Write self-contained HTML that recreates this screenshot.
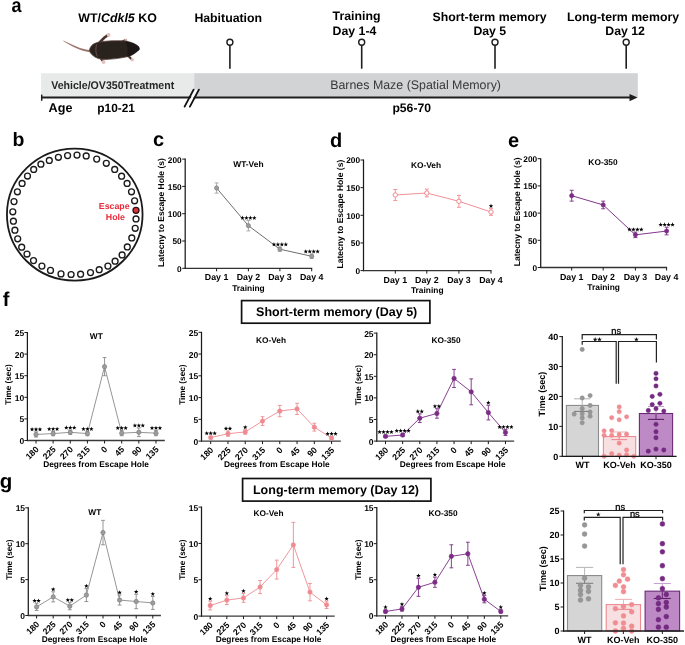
<!DOCTYPE html>
<html><head><meta charset="utf-8"><style>
html,body{margin:0;padding:0;background:#fff;}
svg{display:block;font-family:"Liberation Sans", sans-serif;text-rendering:geometricPrecision;will-change:transform;}
</style></head><body>
<svg width="685" height="645" viewBox="0 0 685 645">
<defs><path id="star" d="M0.00,-2.10 L0.58,-0.54 L2.23,-0.48 L0.93,0.55 L1.38,2.15 L0.00,1.23 L-1.38,2.15 L-0.93,0.55 L-2.23,-0.48 L-0.58,-0.54 Z"/><filter id="blur" x="-10%" y="-20%" width="120%" height="140%"><feGaussianBlur stdDeviation="0.6"/></filter></defs>
<rect width="685" height="645" fill="#fff"/>
<text x="0" y="0" font-size="20" font-weight="bold" transform="translate(11.4,11.9) scale(0.9,1)">a</text>
<text x="78.3" y="22.1" font-size="12.4" font-weight="bold">WT/<tspan font-style="italic">Cdkl5</tspan> KO</text>
<g filter="url(#blur)">
<path d="M63.3,40.4 C70,43.5 78,47.8 86,49.6 L91.5,50.2 L91.5,52.6 L86,51.6 C78,49.8 70,45 63.5,41.2 Z" fill="#9a776d"/>
<path d="M98,44 L104.5,37.5 L108,35.2" stroke="#4a352f" stroke-width="2.6" fill="none" stroke-linecap="round"/>
<circle cx="108.6" cy="34.9" r="1.9" fill="#e2c0bb"/>
<path d="M121,42.5 L125,40.2" stroke="#4a352f" stroke-width="2.2" fill="none" stroke-linecap="round"/>
<circle cx="125.9" cy="39.9" r="1.5" fill="#d9b6b0"/>
<path d="M100,57 L103,61" stroke="#4a352f" stroke-width="2.6" fill="none" stroke-linecap="round"/>
<circle cx="103.6" cy="62.0" r="1.9" fill="#e2c0bb"/>
<path d="M128,55.5 L131.5,59.2" stroke="#4a352f" stroke-width="2.2" fill="none" stroke-linecap="round"/>
<circle cx="132.2" cy="59.7" r="1.7" fill="#e2c0bb"/>
<path d="M89.6,50 C90,46.5 93,43.5 97.2,42.6 C103,41.1 112,40.5 124.5,40.9 C130,41.5 136,44 138.5,46.5 C140,48.5 139.5,50 137.6,51 C135,53.5 131,56 127,56.8 C120,58.3 112,59.3 106,59.4 C100,59.6 95.5,58 93,55.6 C91,54 89.6,52 89.6,50 Z" fill="#2c211d" stroke="#5b453c" stroke-width="0.8"/>
<path d="M125,41.3 C130,41.8 136,44 138.5,46.5 C140,48.5 139.5,50 137.6,51 C135,53.5 131,56 127,56.8 C128.5,52 128,45 125,41.3 Z" fill="#1c1513"/>
<path d="M96.5,44.5 C95.5,49 95.5,53 97.5,56.5" stroke="#6b544c" stroke-width="0.9" fill="none"/>
</g>
<rect x="41" y="73.2" width="153.2" height="24" fill="#e8e9e9"/>
<rect x="194.2" y="73.2" width="443.6" height="24" fill="#d1d3d5"/>
<line x1="41.7" y1="97.5" x2="631" y2="97.5" stroke="#1e1e1e" stroke-width="2" />
<line x1="41.7" y1="94.6" x2="41.7" y2="100.8" stroke="#1e1e1e" stroke-width="1.5" />
<polygon points="629.5,94 637.6,97.6 629.5,101.3" fill="#1e1e1e"/>
<polygon points="186.2,106.6 195.2,89.6 197.8,89.6 188.8,106.6" fill="#fff"/>
<line x1="184.6" y1="106.6" x2="193.6" y2="89.6" stroke="#111" stroke-width="1.8" stroke-linecap="round"/>
<line x1="189.9" y1="106.6" x2="198.9" y2="89.6" stroke="#111" stroke-width="1.8" stroke-linecap="round"/>
<text x="51.2" y="88.6" font-size="11.2" font-weight="bold" text-anchor="start" fill="#262626" textLength="123" lengthAdjust="spacingAndGlyphs">Vehicle/OV350Treatment</text>
<text x="330.2" y="89" font-size="12.4" font-weight="normal" text-anchor="start" fill="#383838" >Barnes Maze (Spatial Memory)</text>
<text x="48.6" y="111.9" font-size="12.6" font-weight="bold" text-anchor="start" fill="#000" >Age</text>
<text x="97.3" y="111.9" font-size="11.9" font-weight="bold" text-anchor="start" fill="#000" >p10-21</text>
<text x="392.4" y="111.6" font-size="12.2" font-weight="bold" text-anchor="start" fill="#000" >p56-70</text>
<text x="194.4" y="21.7" font-size="12.3" font-weight="bold" text-anchor="start" fill="#000" >Habituation</text>
<text x="332.6" y="19.8" font-size="12.3" font-weight="bold" text-anchor="start" fill="#000" >Training</text>
<text x="332.6" y="35" font-size="12.3" font-weight="bold" text-anchor="start" fill="#000" >Day 1-4</text>
<text x="489.5" y="20.5" font-size="12.3" font-weight="bold" text-anchor="middle" fill="#000" >Short-term memory</text>
<text x="489.8" y="34.8" font-size="12.3" font-weight="bold" text-anchor="middle" fill="#000" >Day 5</text>
<text x="623" y="20.5" font-size="12.3" font-weight="bold" text-anchor="middle" fill="#000" >Long-term memory</text>
<text x="625.1" y="34.8" font-size="12.3" font-weight="bold" text-anchor="middle" fill="#000" >Day 12</text>
<circle cx="229.9" cy="42.2" r="3.0" fill="#fff" stroke="#1e1e1e" stroke-width="1.4"/>
<line x1="229.9" y1="45.2" x2="229.9" y2="68.7" stroke="#1e1e1e" stroke-width="1.6" />
<circle cx="361.7" cy="42.2" r="3.0" fill="#fff" stroke="#1e1e1e" stroke-width="1.4"/>
<line x1="361.7" y1="45.2" x2="361.7" y2="68.7" stroke="#1e1e1e" stroke-width="1.6" />
<circle cx="495.0" cy="42.2" r="3.0" fill="#fff" stroke="#1e1e1e" stroke-width="1.4"/>
<line x1="495" y1="45.2" x2="495" y2="68.7" stroke="#1e1e1e" stroke-width="1.6" />
<circle cx="626.2" cy="42.2" r="3.0" fill="#fff" stroke="#1e1e1e" stroke-width="1.4"/>
<line x1="626.2" y1="45.2" x2="626.2" y2="68.7" stroke="#1e1e1e" stroke-width="1.6" />
<text x="0" y="0" font-size="19.5" font-weight="bold" transform="translate(12.4,145.6)">b</text>
<ellipse cx="74.75" cy="214.6" rx="67.8" ry="66.0" fill="none" stroke="#1a1a1a" stroke-width="1.8"/>
<circle cx="136.0" cy="210.3" r="3.0" fill="#d8323c" stroke="#2a1010" stroke-width="1.3"/>
<circle cx="134.6" cy="200.8" r="2.95" fill="#fff" stroke="#1a1a1a" stroke-width="1.35"/>
<circle cx="131.5" cy="191.8" r="2.95" fill="#fff" stroke="#1a1a1a" stroke-width="1.35"/>
<circle cx="127.1" cy="183.4" r="2.95" fill="#fff" stroke="#1a1a1a" stroke-width="1.35"/>
<circle cx="121.6" cy="176.2" r="2.95" fill="#fff" stroke="#1a1a1a" stroke-width="1.35"/>
<circle cx="114.7" cy="169.4" r="2.95" fill="#fff" stroke="#1a1a1a" stroke-width="1.35"/>
<circle cx="106.3" cy="163.3" r="2.95" fill="#fff" stroke="#1a1a1a" stroke-width="1.35"/>
<circle cx="96.7" cy="159.1" r="2.95" fill="#fff" stroke="#1a1a1a" stroke-width="1.35"/>
<circle cx="86.2" cy="155.9" r="2.95" fill="#fff" stroke="#1a1a1a" stroke-width="1.35"/>
<circle cx="77.0" cy="155.1" r="2.95" fill="#fff" stroke="#1a1a1a" stroke-width="1.35"/>
<circle cx="67.6" cy="155.6" r="2.95" fill="#fff" stroke="#1a1a1a" stroke-width="1.35"/>
<circle cx="58.4" cy="157.3" r="2.95" fill="#fff" stroke="#1a1a1a" stroke-width="1.35"/>
<circle cx="49.3" cy="160.4" r="2.95" fill="#fff" stroke="#1a1a1a" stroke-width="1.35"/>
<circle cx="40.9" cy="164.2" r="2.95" fill="#fff" stroke="#1a1a1a" stroke-width="1.35"/>
<circle cx="33.7" cy="169.4" r="2.95" fill="#fff" stroke="#1a1a1a" stroke-width="1.35"/>
<circle cx="27.5" cy="176.0" r="2.95" fill="#fff" stroke="#1a1a1a" stroke-width="1.35"/>
<circle cx="22.1" cy="183.4" r="2.95" fill="#fff" stroke="#1a1a1a" stroke-width="1.35"/>
<circle cx="17.4" cy="191.8" r="2.95" fill="#fff" stroke="#1a1a1a" stroke-width="1.35"/>
<circle cx="14.0" cy="201.6" r="2.95" fill="#fff" stroke="#1a1a1a" stroke-width="1.35"/>
<circle cx="12.8" cy="211.8" r="2.95" fill="#fff" stroke="#1a1a1a" stroke-width="1.35"/>
<circle cx="13.4" cy="221.2" r="2.95" fill="#fff" stroke="#1a1a1a" stroke-width="1.35"/>
<circle cx="14.9" cy="230.2" r="2.95" fill="#fff" stroke="#1a1a1a" stroke-width="1.35"/>
<circle cx="17.7" cy="238.8" r="2.95" fill="#fff" stroke="#1a1a1a" stroke-width="1.35"/>
<circle cx="21.7" cy="247.2" r="2.95" fill="#fff" stroke="#1a1a1a" stroke-width="1.35"/>
<circle cx="27.0" cy="254.0" r="2.95" fill="#fff" stroke="#1a1a1a" stroke-width="1.35"/>
<circle cx="33.5" cy="260.6" r="2.95" fill="#fff" stroke="#1a1a1a" stroke-width="1.35"/>
<circle cx="41.9" cy="266.1" r="2.95" fill="#fff" stroke="#1a1a1a" stroke-width="1.35"/>
<circle cx="50.5" cy="270.4" r="2.95" fill="#fff" stroke="#1a1a1a" stroke-width="1.35"/>
<circle cx="61.0" cy="273.9" r="2.95" fill="#fff" stroke="#1a1a1a" stroke-width="1.35"/>
<circle cx="71.1" cy="274.5" r="2.95" fill="#fff" stroke="#1a1a1a" stroke-width="1.35"/>
<circle cx="80.6" cy="274.2" r="2.95" fill="#fff" stroke="#1a1a1a" stroke-width="1.35"/>
<circle cx="90.5" cy="272.6" r="2.95" fill="#fff" stroke="#1a1a1a" stroke-width="1.35"/>
<circle cx="99.2" cy="269.7" r="2.95" fill="#fff" stroke="#1a1a1a" stroke-width="1.35"/>
<circle cx="107.9" cy="266.1" r="2.95" fill="#fff" stroke="#1a1a1a" stroke-width="1.35"/>
<circle cx="115.1" cy="261.2" r="2.95" fill="#fff" stroke="#1a1a1a" stroke-width="1.35"/>
<circle cx="122.1" cy="254.9" r="2.95" fill="#fff" stroke="#1a1a1a" stroke-width="1.35"/>
<circle cx="127.3" cy="246.9" r="2.95" fill="#fff" stroke="#1a1a1a" stroke-width="1.35"/>
<circle cx="131.8" cy="237.9" r="2.95" fill="#fff" stroke="#1a1a1a" stroke-width="1.35"/>
<circle cx="135.2" cy="228.3" r="2.95" fill="#fff" stroke="#1a1a1a" stroke-width="1.35"/>
<circle cx="136.0" cy="218.9" r="2.95" fill="#fff" stroke="#1a1a1a" stroke-width="1.35"/>
<text x="114.2" y="208.9" font-size="8.8" font-weight="bold" text-anchor="middle" fill="#ea2c3b" >Escape</text>
<text x="115.4" y="219.6" font-size="8.8" font-weight="bold" text-anchor="middle" fill="#ea2c3b" >Hole</text>
<text x="0" y="0" font-size="20" font-weight="bold" transform="translate(153.1,146.3)">c</text>
<line x1="185.2" y1="158.6" x2="185.2" y2="268.9" stroke="#1a1a1a" stroke-width="1.25" />
<line x1="184.7" y1="268.3" x2="312.2" y2="268.3" stroke="#333" stroke-width="1.35" />
<line x1="182.2" y1="268.3" x2="185.2" y2="268.3" stroke="#1a1a1a" stroke-width="1" />
<text x="181.7" y="271.7" font-size="8.3" font-weight="bold" text-anchor="end" fill="#000" >0</text>
<line x1="182.2" y1="241" x2="185.2" y2="241" stroke="#1a1a1a" stroke-width="1" />
<text x="181.7" y="244.4" font-size="8.3" font-weight="bold" text-anchor="end" fill="#000" >50</text>
<line x1="182.2" y1="213.7" x2="185.2" y2="213.7" stroke="#1a1a1a" stroke-width="1" />
<text x="181.7" y="217.1" font-size="8.3" font-weight="bold" text-anchor="end" fill="#000" >100</text>
<line x1="182.2" y1="186.4" x2="185.2" y2="186.4" stroke="#1a1a1a" stroke-width="1" />
<text x="181.7" y="189.8" font-size="8.3" font-weight="bold" text-anchor="end" fill="#000" >150</text>
<line x1="182.2" y1="159.1" x2="185.2" y2="159.1" stroke="#1a1a1a" stroke-width="1" />
<text x="181.7" y="162.5" font-size="8.3" font-weight="bold" text-anchor="end" fill="#000" >200</text>
<line x1="216.6" y1="268.3" x2="216.6" y2="271.3" stroke="#1a1a1a" stroke-width="1" />
<text x="216.6" y="280.3" font-size="8.8" font-weight="bold" text-anchor="middle" fill="#000" >Day 1</text>
<line x1="248.4" y1="268.3" x2="248.4" y2="271.3" stroke="#1a1a1a" stroke-width="1" />
<text x="248.4" y="280.3" font-size="8.8" font-weight="bold" text-anchor="middle" fill="#000" >Day 2</text>
<line x1="279.9" y1="268.3" x2="279.9" y2="271.3" stroke="#1a1a1a" stroke-width="1" />
<text x="279.9" y="280.3" font-size="8.8" font-weight="bold" text-anchor="middle" fill="#000" >Day 3</text>
<line x1="311.7" y1="268.3" x2="311.7" y2="271.3" stroke="#1a1a1a" stroke-width="1" />
<text x="311.7" y="280.3" font-size="8.8" font-weight="bold" text-anchor="middle" fill="#000" >Day 4</text>
<text x="248.45" y="291.1" font-size="8.4" font-weight="bold" text-anchor="middle" fill="#000" >Training</text>
<text x="0" y="0" font-size="8.55" font-weight="bold" text-anchor="middle" transform="translate(164.2,212.5) rotate(-90)">Latecny to Escape Hole (s)</text>
<text x="248.4" y="167.3" font-size="8.4" font-weight="bold" text-anchor="middle" fill="#000" >WT-Veh</text>
<polyline points="216.6,188.04 248.4,225.71 279.9,249.19 311.7,256.29" fill="none" stroke="#666" stroke-width="0.95"/>
<line x1="216.6" y1="182.96" x2="216.6" y2="193.12" stroke="#a3a3a3" stroke-width="0.9" />
<line x1="214.6" y1="182.96" x2="218.6" y2="182.96" stroke="#a3a3a3" stroke-width="0.9" />
<line x1="214.6" y1="193.12" x2="218.6" y2="193.12" stroke="#a3a3a3" stroke-width="0.9" />
<line x1="248.4" y1="220.53" x2="248.4" y2="230.9" stroke="#a3a3a3" stroke-width="0.9" />
<line x1="246.4" y1="220.53" x2="250.4" y2="220.53" stroke="#a3a3a3" stroke-width="0.9" />
<line x1="246.4" y1="230.9" x2="250.4" y2="230.9" stroke="#a3a3a3" stroke-width="0.9" />
<line x1="279.9" y1="247.01" x2="279.9" y2="251.37" stroke="#a3a3a3" stroke-width="0.9" />
<line x1="277.9" y1="247.01" x2="281.9" y2="247.01" stroke="#a3a3a3" stroke-width="0.9" />
<line x1="277.9" y1="251.37" x2="281.9" y2="251.37" stroke="#a3a3a3" stroke-width="0.9" />
<line x1="311.7" y1="254.1" x2="311.7" y2="258.47" stroke="#a3a3a3" stroke-width="0.9" />
<line x1="309.7" y1="254.1" x2="313.7" y2="254.1" stroke="#a3a3a3" stroke-width="0.9" />
<line x1="309.7" y1="258.47" x2="313.7" y2="258.47" stroke="#a3a3a3" stroke-width="0.9" />
<circle cx="216.6" cy="188.04" r="2.1" fill="#9c9c9c" stroke="#7c7c7c" stroke-width="0.7"/>
<circle cx="248.4" cy="225.71" r="2.1" fill="#9c9c9c" stroke="#7c7c7c" stroke-width="0.7"/>
<circle cx="279.9" cy="249.19" r="2.1" fill="#9c9c9c" stroke="#7c7c7c" stroke-width="0.7"/>
<circle cx="311.7" cy="256.29" r="2.1" fill="#9c9c9c" stroke="#7c7c7c" stroke-width="0.7"/>
<use href="#star" x="242.47" y="217.72" fill="#000"/>
<use href="#star" x="246.42" y="217.72" fill="#000"/>
<use href="#star" x="250.38" y="217.72" fill="#000"/>
<use href="#star" x="254.32" y="217.72" fill="#000"/>
<use href="#star" x="273.97" y="244.21" fill="#000"/>
<use href="#star" x="277.92" y="244.21" fill="#000"/>
<use href="#star" x="281.87" y="244.21" fill="#000"/>
<use href="#star" x="285.82" y="244.21" fill="#000"/>
<use href="#star" x="305.77" y="251.3" fill="#000"/>
<use href="#star" x="309.72" y="251.3" fill="#000"/>
<use href="#star" x="313.67" y="251.3" fill="#000"/>
<use href="#star" x="317.62" y="251.3" fill="#000"/>
<text x="0" y="0" font-size="20" font-weight="bold" transform="translate(329.9,146.8)">d</text>
<line x1="363.5" y1="159.5" x2="363.5" y2="271.2" stroke="#1a1a1a" stroke-width="1.25" />
<line x1="363" y1="270.6" x2="491.5" y2="270.6" stroke="#333" stroke-width="1.35" />
<line x1="360.5" y1="270.6" x2="363.5" y2="270.6" stroke="#1a1a1a" stroke-width="1" />
<text x="360" y="274" font-size="8.3" font-weight="bold" text-anchor="end" fill="#000" >0</text>
<line x1="360.5" y1="242.95" x2="363.5" y2="242.95" stroke="#1a1a1a" stroke-width="1" />
<text x="360" y="246.35" font-size="8.3" font-weight="bold" text-anchor="end" fill="#000" >50</text>
<line x1="360.5" y1="215.3" x2="363.5" y2="215.3" stroke="#1a1a1a" stroke-width="1" />
<text x="360" y="218.7" font-size="8.3" font-weight="bold" text-anchor="end" fill="#000" >100</text>
<line x1="360.5" y1="187.65" x2="363.5" y2="187.65" stroke="#1a1a1a" stroke-width="1" />
<text x="360" y="191.05" font-size="8.3" font-weight="bold" text-anchor="end" fill="#000" >150</text>
<line x1="360.5" y1="160" x2="363.5" y2="160" stroke="#1a1a1a" stroke-width="1" />
<text x="360" y="163.4" font-size="8.3" font-weight="bold" text-anchor="end" fill="#000" >200</text>
<line x1="395.3" y1="270.6" x2="395.3" y2="273.6" stroke="#1a1a1a" stroke-width="1" />
<text x="395.3" y="282.6" font-size="8.8" font-weight="bold" text-anchor="middle" fill="#000" >Day 1</text>
<line x1="426.8" y1="270.6" x2="426.8" y2="273.6" stroke="#1a1a1a" stroke-width="1" />
<text x="426.8" y="282.6" font-size="8.8" font-weight="bold" text-anchor="middle" fill="#000" >Day 2</text>
<line x1="458.9" y1="270.6" x2="458.9" y2="273.6" stroke="#1a1a1a" stroke-width="1" />
<text x="458.9" y="282.6" font-size="8.8" font-weight="bold" text-anchor="middle" fill="#000" >Day 3</text>
<line x1="491" y1="270.6" x2="491" y2="273.6" stroke="#1a1a1a" stroke-width="1" />
<text x="491" y="282.6" font-size="8.8" font-weight="bold" text-anchor="middle" fill="#000" >Day 4</text>
<text x="427.25" y="293.4" font-size="8.4" font-weight="bold" text-anchor="middle" fill="#000" >Training</text>
<text x="0" y="0" font-size="8.55" font-weight="bold" text-anchor="middle" transform="translate(342.5,214.1) rotate(-90)">Latecny to Escape Hole (s)</text>
<text x="426" y="167.5" font-size="8.4" font-weight="bold" text-anchor="middle" fill="#000" >KO-Veh</text>
<polyline points="395.3,195 426.8,193.01 458.9,201.31 491,211.98" fill="none" stroke="#ef8a90" stroke-width="0.95"/>
<line x1="395.3" y1="189.53" x2="395.3" y2="200.48" stroke="#ef8a90" stroke-width="0.9" />
<line x1="393.3" y1="189.53" x2="397.3" y2="189.53" stroke="#ef8a90" stroke-width="0.9" />
<line x1="393.3" y1="200.48" x2="397.3" y2="200.48" stroke="#ef8a90" stroke-width="0.9" />
<line x1="426.8" y1="189.14" x2="426.8" y2="196.89" stroke="#ef8a90" stroke-width="0.9" />
<line x1="424.8" y1="189.14" x2="428.8" y2="189.14" stroke="#ef8a90" stroke-width="0.9" />
<line x1="424.8" y1="196.89" x2="428.8" y2="196.89" stroke="#ef8a90" stroke-width="0.9" />
<line x1="458.9" y1="195.34" x2="458.9" y2="207.28" stroke="#ef8a90" stroke-width="0.9" />
<line x1="456.9" y1="195.34" x2="460.9" y2="195.34" stroke="#ef8a90" stroke-width="0.9" />
<line x1="456.9" y1="207.28" x2="460.9" y2="207.28" stroke="#ef8a90" stroke-width="0.9" />
<line x1="491" y1="208.66" x2="491" y2="215.3" stroke="#ef8a90" stroke-width="0.9" />
<line x1="489" y1="208.66" x2="493" y2="208.66" stroke="#ef8a90" stroke-width="0.9" />
<line x1="489" y1="215.3" x2="493" y2="215.3" stroke="#ef8a90" stroke-width="0.9" />
<circle cx="395.3" cy="195" r="2.2" fill="#fff" stroke="#ef8a90" stroke-width="1"/>
<circle cx="426.8" cy="193.01" r="2.2" fill="#fff" stroke="#ef8a90" stroke-width="1"/>
<circle cx="458.9" cy="201.31" r="2.2" fill="#fff" stroke="#ef8a90" stroke-width="1"/>
<circle cx="491" cy="211.98" r="2.2" fill="#fff" stroke="#ef8a90" stroke-width="1"/>
<use href="#star" x="491" y="205.86" fill="#000"/>
<text x="0" y="0" font-size="20" font-weight="bold" transform="translate(508,146.8)">e</text>
<line x1="540.7" y1="158.2" x2="540.7" y2="268.1" stroke="#1a1a1a" stroke-width="1.25" />
<line x1="540.2" y1="267.5" x2="667.1" y2="267.5" stroke="#333" stroke-width="1.35" />
<line x1="537.7" y1="267.5" x2="540.7" y2="267.5" stroke="#1a1a1a" stroke-width="1" />
<text x="537.2" y="270.9" font-size="8.3" font-weight="bold" text-anchor="end" fill="#000" >0</text>
<line x1="537.7" y1="240.3" x2="540.7" y2="240.3" stroke="#1a1a1a" stroke-width="1" />
<text x="537.2" y="243.7" font-size="8.3" font-weight="bold" text-anchor="end" fill="#000" >50</text>
<line x1="537.7" y1="213.1" x2="540.7" y2="213.1" stroke="#1a1a1a" stroke-width="1" />
<text x="537.2" y="216.5" font-size="8.3" font-weight="bold" text-anchor="end" fill="#000" >100</text>
<line x1="537.7" y1="185.9" x2="540.7" y2="185.9" stroke="#1a1a1a" stroke-width="1" />
<text x="537.2" y="189.3" font-size="8.3" font-weight="bold" text-anchor="end" fill="#000" >150</text>
<line x1="537.7" y1="158.7" x2="540.7" y2="158.7" stroke="#1a1a1a" stroke-width="1" />
<text x="537.2" y="162.1" font-size="8.3" font-weight="bold" text-anchor="end" fill="#000" >200</text>
<line x1="571.7" y1="267.5" x2="571.7" y2="270.5" stroke="#1a1a1a" stroke-width="1" />
<text x="571.7" y="279.5" font-size="8.8" font-weight="bold" text-anchor="middle" fill="#000" >Day 1</text>
<line x1="603.2" y1="267.5" x2="603.2" y2="270.5" stroke="#1a1a1a" stroke-width="1" />
<text x="603.2" y="279.5" font-size="8.8" font-weight="bold" text-anchor="middle" fill="#000" >Day 2</text>
<line x1="635.4" y1="267.5" x2="635.4" y2="270.5" stroke="#1a1a1a" stroke-width="1" />
<text x="635.4" y="279.5" font-size="8.8" font-weight="bold" text-anchor="middle" fill="#000" >Day 3</text>
<line x1="666.6" y1="267.5" x2="666.6" y2="270.5" stroke="#1a1a1a" stroke-width="1" />
<text x="666.6" y="279.5" font-size="8.8" font-weight="bold" text-anchor="middle" fill="#000" >Day 4</text>
<text x="603.65" y="290.3" font-size="8.4" font-weight="bold" text-anchor="middle" fill="#000" >Training</text>
<text x="0" y="0" font-size="8.55" font-weight="bold" text-anchor="middle" transform="translate(519.7,211.9) rotate(-90)">Latecny to Escape Hole (s)</text>
<text x="603" y="164.8" font-size="8.4" font-weight="bold" text-anchor="middle" fill="#000" >KO-350</text>
<polyline points="571.7,195.69 603.2,204.94 635.4,234.86 666.6,231.05" fill="none" stroke="#7b2c85" stroke-width="0.95"/>
<line x1="571.7" y1="190.25" x2="571.7" y2="201.13" stroke="#7b2c85" stroke-width="0.9" />
<line x1="569.7" y1="190.25" x2="573.7" y2="190.25" stroke="#7b2c85" stroke-width="0.9" />
<line x1="569.7" y1="201.13" x2="573.7" y2="201.13" stroke="#7b2c85" stroke-width="0.9" />
<line x1="603.2" y1="201.13" x2="603.2" y2="208.75" stroke="#7b2c85" stroke-width="0.9" />
<line x1="601.2" y1="201.13" x2="605.2" y2="201.13" stroke="#7b2c85" stroke-width="0.9" />
<line x1="601.2" y1="208.75" x2="605.2" y2="208.75" stroke="#7b2c85" stroke-width="0.9" />
<line x1="635.4" y1="232.14" x2="635.4" y2="237.58" stroke="#7b2c85" stroke-width="0.9" />
<line x1="633.4" y1="232.14" x2="637.4" y2="232.14" stroke="#7b2c85" stroke-width="0.9" />
<line x1="633.4" y1="237.58" x2="637.4" y2="237.58" stroke="#7b2c85" stroke-width="0.9" />
<line x1="666.6" y1="227.24" x2="666.6" y2="234.86" stroke="#7b2c85" stroke-width="0.9" />
<line x1="664.6" y1="227.24" x2="668.6" y2="227.24" stroke="#7b2c85" stroke-width="0.9" />
<line x1="664.6" y1="234.86" x2="668.6" y2="234.86" stroke="#7b2c85" stroke-width="0.9" />
<circle cx="571.7" cy="195.69" r="2.1" fill="#7b2c85" stroke="#7b2c85" stroke-width="0.7"/>
<circle cx="603.2" cy="204.94" r="2.1" fill="#7b2c85" stroke="#7b2c85" stroke-width="0.7"/>
<circle cx="635.4" cy="234.86" r="2.1" fill="#7b2c85" stroke="#7b2c85" stroke-width="0.7"/>
<circle cx="666.6" cy="231.05" r="2.1" fill="#7b2c85" stroke="#7b2c85" stroke-width="0.7"/>
<use href="#star" x="629.48" y="229.34" fill="#000"/>
<use href="#star" x="633.43" y="229.34" fill="#000"/>
<use href="#star" x="637.38" y="229.34" fill="#000"/>
<use href="#star" x="641.33" y="229.34" fill="#000"/>
<use href="#star" x="660.68" y="224.44" fill="#000"/>
<use href="#star" x="664.63" y="224.44" fill="#000"/>
<use href="#star" x="668.58" y="224.44" fill="#000"/>
<use href="#star" x="672.53" y="224.44" fill="#000"/>
<text x="0" y="0" font-size="20" font-weight="bold" transform="translate(2.8,305.9)">f</text>
<text x="0" y="0" font-size="20.5" font-weight="bold" transform="translate(-0.3,487.8)">g</text>
<rect x="241.6" y="300.6" width="188.3" height="22.6" fill="#fff" stroke="#111" stroke-width="1.7"/>
<text x="336.7" y="316.2" font-size="12.5" font-weight="bold" text-anchor="middle" fill="#000" >Short-term memory (Day 5)</text>
<rect x="242.6" y="478.5" width="188.3" height="22.6" fill="#fff" stroke="#111" stroke-width="1.7"/>
<text x="336" y="494.1" font-size="12.5" font-weight="bold" text-anchor="middle" fill="#000" >Long-term memory (Day 12)</text>
<line x1="27.4" y1="332" x2="27.4" y2="441.1" stroke="#1a1a1a" stroke-width="1.25" />
<line x1="26.9" y1="440.5" x2="164.8" y2="440.5" stroke="#3a3a3a" stroke-width="1.3" />
<line x1="24.4" y1="440.5" x2="27.4" y2="440.5" stroke="#1a1a1a" stroke-width="1" />
<text x="24.2" y="444" font-size="8.5" font-weight="bold" text-anchor="end" fill="#000" >0</text>
<line x1="24.4" y1="418.9" x2="27.4" y2="418.9" stroke="#1a1a1a" stroke-width="1" />
<text x="24.2" y="422.4" font-size="8.5" font-weight="bold" text-anchor="end" fill="#000" >5</text>
<line x1="24.4" y1="397.3" x2="27.4" y2="397.3" stroke="#1a1a1a" stroke-width="1" />
<text x="24.2" y="400.8" font-size="8.5" font-weight="bold" text-anchor="end" fill="#000" >10</text>
<line x1="24.4" y1="375.7" x2="27.4" y2="375.7" stroke="#1a1a1a" stroke-width="1" />
<text x="24.2" y="379.2" font-size="8.5" font-weight="bold" text-anchor="end" fill="#000" >15</text>
<line x1="24.4" y1="354.1" x2="27.4" y2="354.1" stroke="#1a1a1a" stroke-width="1" />
<text x="24.2" y="357.6" font-size="8.5" font-weight="bold" text-anchor="end" fill="#000" >20</text>
<line x1="24.4" y1="332.5" x2="27.4" y2="332.5" stroke="#1a1a1a" stroke-width="1" />
<text x="24.2" y="336" font-size="8.5" font-weight="bold" text-anchor="end" fill="#000" >25</text>
<line x1="36" y1="440.5" x2="36" y2="443.5" stroke="#1a1a1a" stroke-width="1" />
<text x="0" y="0" font-size="8.6" font-weight="bold" text-anchor="end" transform="translate(39.3,449.9) rotate(-45)">180</text>
<line x1="53.14" y1="440.5" x2="53.14" y2="443.5" stroke="#1a1a1a" stroke-width="1" />
<text x="0" y="0" font-size="8.6" font-weight="bold" text-anchor="end" transform="translate(56.44,449.9) rotate(-45)">225</text>
<line x1="70.28" y1="440.5" x2="70.28" y2="443.5" stroke="#1a1a1a" stroke-width="1" />
<text x="0" y="0" font-size="8.6" font-weight="bold" text-anchor="end" transform="translate(73.58,449.9) rotate(-45)">270</text>
<line x1="87.42" y1="440.5" x2="87.42" y2="443.5" stroke="#1a1a1a" stroke-width="1" />
<text x="0" y="0" font-size="8.6" font-weight="bold" text-anchor="end" transform="translate(90.72,449.9) rotate(-45)">315</text>
<line x1="104.56" y1="440.5" x2="104.56" y2="443.5" stroke="#1a1a1a" stroke-width="1" />
<text x="0" y="0" font-size="8.6" font-weight="bold" text-anchor="end" transform="translate(107.86,449.9) rotate(-45)">0</text>
<line x1="121.7" y1="440.5" x2="121.7" y2="443.5" stroke="#1a1a1a" stroke-width="1" />
<text x="0" y="0" font-size="8.6" font-weight="bold" text-anchor="end" transform="translate(125,449.9) rotate(-45)">45</text>
<line x1="138.84" y1="440.5" x2="138.84" y2="443.5" stroke="#1a1a1a" stroke-width="1" />
<text x="0" y="0" font-size="8.6" font-weight="bold" text-anchor="end" transform="translate(142.14,449.9) rotate(-45)">90</text>
<line x1="155.98" y1="440.5" x2="155.98" y2="443.5" stroke="#1a1a1a" stroke-width="1" />
<text x="0" y="0" font-size="8.6" font-weight="bold" text-anchor="end" transform="translate(159.28,449.9) rotate(-45)">135</text>
<text x="96" y="466.8" font-size="8.36" font-weight="bold" text-anchor="middle" fill="#000" >Degrees from Escape Hole</text>
<text x="0" y="0" font-size="8.2" font-weight="bold" text-anchor="middle" transform="translate(11.2,384.5) rotate(-90)">Time (sec)</text>
<text x="96.3" y="339.3" font-size="8.3" font-weight="bold" text-anchor="middle" fill="#000" >WT</text>
<polyline points="36,434.45 53.14,433.59 70.28,432.29 87.42,433.59 104.56,366.63 121.7,433.16 138.84,432.29 155.98,433.16" fill="none" stroke="#8a8a8a" stroke-width="0.9"/>
<line x1="36" y1="431.86" x2="36" y2="437.04" stroke="#8a8a8a" stroke-width="0.9" />
<line x1="34.1" y1="431.86" x2="37.9" y2="431.86" stroke="#8a8a8a" stroke-width="0.9" />
<line x1="34.1" y1="437.04" x2="37.9" y2="437.04" stroke="#8a8a8a" stroke-width="0.9" />
<line x1="53.14" y1="431.43" x2="53.14" y2="435.75" stroke="#8a8a8a" stroke-width="0.9" />
<line x1="51.24" y1="431.43" x2="55.04" y2="431.43" stroke="#8a8a8a" stroke-width="0.9" />
<line x1="51.24" y1="435.75" x2="55.04" y2="435.75" stroke="#8a8a8a" stroke-width="0.9" />
<line x1="70.28" y1="430.13" x2="70.28" y2="434.45" stroke="#8a8a8a" stroke-width="0.9" />
<line x1="68.38" y1="430.13" x2="72.18" y2="430.13" stroke="#8a8a8a" stroke-width="0.9" />
<line x1="68.38" y1="434.45" x2="72.18" y2="434.45" stroke="#8a8a8a" stroke-width="0.9" />
<line x1="87.42" y1="431.43" x2="87.42" y2="435.75" stroke="#8a8a8a" stroke-width="0.9" />
<line x1="85.52" y1="431.43" x2="89.32" y2="431.43" stroke="#8a8a8a" stroke-width="0.9" />
<line x1="85.52" y1="435.75" x2="89.32" y2="435.75" stroke="#8a8a8a" stroke-width="0.9" />
<line x1="104.56" y1="357.56" x2="104.56" y2="375.7" stroke="#8a8a8a" stroke-width="0.9" />
<line x1="102.66" y1="357.56" x2="106.46" y2="357.56" stroke="#8a8a8a" stroke-width="0.9" />
<line x1="102.66" y1="375.7" x2="106.46" y2="375.7" stroke="#8a8a8a" stroke-width="0.9" />
<line x1="121.7" y1="430.56" x2="121.7" y2="435.75" stroke="#8a8a8a" stroke-width="0.9" />
<line x1="119.8" y1="430.56" x2="123.6" y2="430.56" stroke="#8a8a8a" stroke-width="0.9" />
<line x1="119.8" y1="435.75" x2="123.6" y2="435.75" stroke="#8a8a8a" stroke-width="0.9" />
<line x1="138.84" y1="427.97" x2="138.84" y2="436.61" stroke="#8a8a8a" stroke-width="0.9" />
<line x1="136.94" y1="427.97" x2="140.74" y2="427.97" stroke="#8a8a8a" stroke-width="0.9" />
<line x1="136.94" y1="436.61" x2="140.74" y2="436.61" stroke="#8a8a8a" stroke-width="0.9" />
<line x1="155.98" y1="430.56" x2="155.98" y2="435.75" stroke="#8a8a8a" stroke-width="0.9" />
<line x1="154.08" y1="430.56" x2="157.88" y2="430.56" stroke="#8a8a8a" stroke-width="0.9" />
<line x1="154.08" y1="435.75" x2="157.88" y2="435.75" stroke="#8a8a8a" stroke-width="0.9" />
<circle cx="36" cy="434.45" r="2.2" fill="#9c9c9c" stroke="#7c7c7c" stroke-width="0.6"/>
<circle cx="53.14" cy="433.59" r="2.2" fill="#9c9c9c" stroke="#7c7c7c" stroke-width="0.6"/>
<circle cx="70.28" cy="432.29" r="2.2" fill="#9c9c9c" stroke="#7c7c7c" stroke-width="0.6"/>
<circle cx="87.42" cy="433.59" r="2.2" fill="#9c9c9c" stroke="#7c7c7c" stroke-width="0.6"/>
<circle cx="104.56" cy="366.63" r="2.2" fill="#9c9c9c" stroke="#7c7c7c" stroke-width="0.6"/>
<circle cx="121.7" cy="433.16" r="2.2" fill="#9c9c9c" stroke="#7c7c7c" stroke-width="0.6"/>
<circle cx="138.84" cy="432.29" r="2.2" fill="#9c9c9c" stroke="#7c7c7c" stroke-width="0.6"/>
<circle cx="155.98" cy="433.16" r="2.2" fill="#9c9c9c" stroke="#7c7c7c" stroke-width="0.6"/>
<use href="#star" x="32.05" y="429.16" fill="#000"/>
<use href="#star" x="36" y="429.16" fill="#000"/>
<use href="#star" x="39.95" y="429.16" fill="#000"/>
<use href="#star" x="49.19" y="428.73" fill="#000"/>
<use href="#star" x="53.14" y="428.73" fill="#000"/>
<use href="#star" x="57.09" y="428.73" fill="#000"/>
<use href="#star" x="66.33" y="427.43" fill="#000"/>
<use href="#star" x="70.28" y="427.43" fill="#000"/>
<use href="#star" x="74.23" y="427.43" fill="#000"/>
<use href="#star" x="83.47" y="428.73" fill="#000"/>
<use href="#star" x="87.42" y="428.73" fill="#000"/>
<use href="#star" x="91.37" y="428.73" fill="#000"/>
<use href="#star" x="117.75" y="427.86" fill="#000"/>
<use href="#star" x="121.7" y="427.86" fill="#000"/>
<use href="#star" x="125.65" y="427.86" fill="#000"/>
<use href="#star" x="134.89" y="425.27" fill="#000"/>
<use href="#star" x="138.84" y="425.27" fill="#000"/>
<use href="#star" x="142.79" y="425.27" fill="#000"/>
<use href="#star" x="152.03" y="427.86" fill="#000"/>
<use href="#star" x="155.98" y="427.86" fill="#000"/>
<use href="#star" x="159.93" y="427.86" fill="#000"/>
<line x1="201.5" y1="331.8" x2="201.5" y2="441.7" stroke="#1a1a1a" stroke-width="1.25" />
<line x1="201" y1="441.1" x2="340.8" y2="441.1" stroke="#3a3a3a" stroke-width="1.3" />
<line x1="198.5" y1="441.1" x2="201.5" y2="441.1" stroke="#1a1a1a" stroke-width="1" />
<text x="198.3" y="444.6" font-size="8.5" font-weight="bold" text-anchor="end" fill="#000" >0</text>
<line x1="198.5" y1="419.34" x2="201.5" y2="419.34" stroke="#1a1a1a" stroke-width="1" />
<text x="198.3" y="422.84" font-size="8.5" font-weight="bold" text-anchor="end" fill="#000" >5</text>
<line x1="198.5" y1="397.58" x2="201.5" y2="397.58" stroke="#1a1a1a" stroke-width="1" />
<text x="198.3" y="401.08" font-size="8.5" font-weight="bold" text-anchor="end" fill="#000" >10</text>
<line x1="198.5" y1="375.82" x2="201.5" y2="375.82" stroke="#1a1a1a" stroke-width="1" />
<text x="198.3" y="379.32" font-size="8.5" font-weight="bold" text-anchor="end" fill="#000" >15</text>
<line x1="198.5" y1="354.06" x2="201.5" y2="354.06" stroke="#1a1a1a" stroke-width="1" />
<text x="198.3" y="357.56" font-size="8.5" font-weight="bold" text-anchor="end" fill="#000" >20</text>
<line x1="198.5" y1="332.3" x2="201.5" y2="332.3" stroke="#1a1a1a" stroke-width="1" />
<text x="198.3" y="335.8" font-size="8.5" font-weight="bold" text-anchor="end" fill="#000" >25</text>
<line x1="210.7" y1="441.1" x2="210.7" y2="444.1" stroke="#1a1a1a" stroke-width="1" />
<text x="0" y="0" font-size="8.6" font-weight="bold" text-anchor="end" transform="translate(214,450.5) rotate(-45)">180</text>
<line x1="227.97" y1="441.1" x2="227.97" y2="444.1" stroke="#1a1a1a" stroke-width="1" />
<text x="0" y="0" font-size="8.6" font-weight="bold" text-anchor="end" transform="translate(231.27,450.5) rotate(-45)">225</text>
<line x1="245.24" y1="441.1" x2="245.24" y2="444.1" stroke="#1a1a1a" stroke-width="1" />
<text x="0" y="0" font-size="8.6" font-weight="bold" text-anchor="end" transform="translate(248.54,450.5) rotate(-45)">270</text>
<line x1="262.51" y1="441.1" x2="262.51" y2="444.1" stroke="#1a1a1a" stroke-width="1" />
<text x="0" y="0" font-size="8.6" font-weight="bold" text-anchor="end" transform="translate(265.81,450.5) rotate(-45)">315</text>
<line x1="279.78" y1="441.1" x2="279.78" y2="444.1" stroke="#1a1a1a" stroke-width="1" />
<text x="0" y="0" font-size="8.6" font-weight="bold" text-anchor="end" transform="translate(283.08,450.5) rotate(-45)">0</text>
<line x1="297.05" y1="441.1" x2="297.05" y2="444.1" stroke="#1a1a1a" stroke-width="1" />
<text x="0" y="0" font-size="8.6" font-weight="bold" text-anchor="end" transform="translate(300.35,450.5) rotate(-45)">45</text>
<line x1="314.32" y1="441.1" x2="314.32" y2="444.1" stroke="#1a1a1a" stroke-width="1" />
<text x="0" y="0" font-size="8.6" font-weight="bold" text-anchor="end" transform="translate(317.62,450.5) rotate(-45)">90</text>
<line x1="331.59" y1="441.1" x2="331.59" y2="444.1" stroke="#1a1a1a" stroke-width="1" />
<text x="0" y="0" font-size="8.6" font-weight="bold" text-anchor="end" transform="translate(334.89,450.5) rotate(-45)">135</text>
<text x="276.8" y="467.4" font-size="8.36" font-weight="bold" text-anchor="middle" fill="#000" >Degrees from Escape Hole</text>
<text x="0" y="0" font-size="8.2" font-weight="bold" text-anchor="middle" transform="translate(185.3,384.7) rotate(-90)">Time (sec)</text>
<text x="271" y="342.7" font-size="8.3" font-weight="bold" text-anchor="middle" fill="#000" >KO-Veh</text>
<polyline points="210.7,437.62 227.97,433.7 245.24,431.96 262.51,421.08 279.78,411.07 297.05,408.9 314.32,427.17 331.59,438.05" fill="none" stroke="#ef8a90" stroke-width="0.9"/>
<line x1="210.7" y1="436.31" x2="210.7" y2="438.92" stroke="#ef8a90" stroke-width="0.9" />
<line x1="208.8" y1="436.31" x2="212.6" y2="436.31" stroke="#ef8a90" stroke-width="0.9" />
<line x1="208.8" y1="438.92" x2="212.6" y2="438.92" stroke="#ef8a90" stroke-width="0.9" />
<line x1="227.97" y1="431.09" x2="227.97" y2="436.31" stroke="#ef8a90" stroke-width="0.9" />
<line x1="226.07" y1="431.09" x2="229.87" y2="431.09" stroke="#ef8a90" stroke-width="0.9" />
<line x1="226.07" y1="436.31" x2="229.87" y2="436.31" stroke="#ef8a90" stroke-width="0.9" />
<line x1="245.24" y1="429.78" x2="245.24" y2="434.14" stroke="#ef8a90" stroke-width="0.9" />
<line x1="243.34" y1="429.78" x2="247.14" y2="429.78" stroke="#ef8a90" stroke-width="0.9" />
<line x1="243.34" y1="434.14" x2="247.14" y2="434.14" stroke="#ef8a90" stroke-width="0.9" />
<line x1="262.51" y1="416.73" x2="262.51" y2="425.43" stroke="#ef8a90" stroke-width="0.9" />
<line x1="260.61" y1="416.73" x2="264.41" y2="416.73" stroke="#ef8a90" stroke-width="0.9" />
<line x1="260.61" y1="425.43" x2="264.41" y2="425.43" stroke="#ef8a90" stroke-width="0.9" />
<line x1="279.78" y1="405.41" x2="279.78" y2="416.73" stroke="#ef8a90" stroke-width="0.9" />
<line x1="277.88" y1="405.41" x2="281.68" y2="405.41" stroke="#ef8a90" stroke-width="0.9" />
<line x1="277.88" y1="416.73" x2="281.68" y2="416.73" stroke="#ef8a90" stroke-width="0.9" />
<line x1="297.05" y1="403.24" x2="297.05" y2="414.55" stroke="#ef8a90" stroke-width="0.9" />
<line x1="295.15" y1="403.24" x2="298.95" y2="403.24" stroke="#ef8a90" stroke-width="0.9" />
<line x1="295.15" y1="414.55" x2="298.95" y2="414.55" stroke="#ef8a90" stroke-width="0.9" />
<line x1="314.32" y1="423.26" x2="314.32" y2="431.09" stroke="#ef8a90" stroke-width="0.9" />
<line x1="312.42" y1="423.26" x2="316.22" y2="423.26" stroke="#ef8a90" stroke-width="0.9" />
<line x1="312.42" y1="431.09" x2="316.22" y2="431.09" stroke="#ef8a90" stroke-width="0.9" />
<line x1="331.59" y1="436.75" x2="331.59" y2="439.36" stroke="#ef8a90" stroke-width="0.9" />
<line x1="329.69" y1="436.75" x2="333.49" y2="436.75" stroke="#ef8a90" stroke-width="0.9" />
<line x1="329.69" y1="439.36" x2="333.49" y2="439.36" stroke="#ef8a90" stroke-width="0.9" />
<circle cx="210.7" cy="437.62" r="2.2" fill="#ef8a90" stroke="#ef8a90" stroke-width="0.6"/>
<circle cx="227.97" cy="433.7" r="2.2" fill="#ef8a90" stroke="#ef8a90" stroke-width="0.6"/>
<circle cx="245.24" cy="431.96" r="2.2" fill="#ef8a90" stroke="#ef8a90" stroke-width="0.6"/>
<circle cx="262.51" cy="421.08" r="2.2" fill="#ef8a90" stroke="#ef8a90" stroke-width="0.6"/>
<circle cx="279.78" cy="411.07" r="2.2" fill="#ef8a90" stroke="#ef8a90" stroke-width="0.6"/>
<circle cx="297.05" cy="408.9" r="2.2" fill="#ef8a90" stroke="#ef8a90" stroke-width="0.6"/>
<circle cx="314.32" cy="427.17" r="2.2" fill="#ef8a90" stroke="#ef8a90" stroke-width="0.6"/>
<circle cx="331.59" cy="438.05" r="2.2" fill="#ef8a90" stroke="#ef8a90" stroke-width="0.6"/>
<use href="#star" x="206.75" y="433.12" fill="#000"/>
<use href="#star" x="210.7" y="433.12" fill="#000"/>
<use href="#star" x="214.65" y="433.12" fill="#000"/>
<use href="#star" x="226" y="428.39" fill="#000"/>
<use href="#star" x="229.94" y="428.39" fill="#000"/>
<use href="#star" x="245.24" y="427.08" fill="#000"/>
<use href="#star" x="327.64" y="433.55" fill="#000"/>
<use href="#star" x="331.59" y="433.55" fill="#000"/>
<use href="#star" x="335.54" y="433.55" fill="#000"/>
<line x1="376.8" y1="332.6" x2="376.8" y2="441.7" stroke="#1a1a1a" stroke-width="1.25" />
<line x1="376.3" y1="441.1" x2="514.2" y2="441.1" stroke="#3a3a3a" stroke-width="1.3" />
<line x1="373.8" y1="441.1" x2="376.8" y2="441.1" stroke="#1a1a1a" stroke-width="1" />
<text x="373.6" y="444.6" font-size="8.5" font-weight="bold" text-anchor="end" fill="#000" >0</text>
<line x1="373.8" y1="419.5" x2="376.8" y2="419.5" stroke="#1a1a1a" stroke-width="1" />
<text x="373.6" y="423" font-size="8.5" font-weight="bold" text-anchor="end" fill="#000" >5</text>
<line x1="373.8" y1="397.9" x2="376.8" y2="397.9" stroke="#1a1a1a" stroke-width="1" />
<text x="373.6" y="401.4" font-size="8.5" font-weight="bold" text-anchor="end" fill="#000" >10</text>
<line x1="373.8" y1="376.3" x2="376.8" y2="376.3" stroke="#1a1a1a" stroke-width="1" />
<text x="373.6" y="379.8" font-size="8.5" font-weight="bold" text-anchor="end" fill="#000" >15</text>
<line x1="373.8" y1="354.7" x2="376.8" y2="354.7" stroke="#1a1a1a" stroke-width="1" />
<text x="373.6" y="358.2" font-size="8.5" font-weight="bold" text-anchor="end" fill="#000" >20</text>
<line x1="373.8" y1="333.1" x2="376.8" y2="333.1" stroke="#1a1a1a" stroke-width="1" />
<text x="373.6" y="336.6" font-size="8.5" font-weight="bold" text-anchor="end" fill="#000" >25</text>
<line x1="385.5" y1="441.1" x2="385.5" y2="444.1" stroke="#1a1a1a" stroke-width="1" />
<text x="0" y="0" font-size="8.6" font-weight="bold" text-anchor="end" transform="translate(388.8,450.5) rotate(-45)">180</text>
<line x1="402.64" y1="441.1" x2="402.64" y2="444.1" stroke="#1a1a1a" stroke-width="1" />
<text x="0" y="0" font-size="8.6" font-weight="bold" text-anchor="end" transform="translate(405.94,450.5) rotate(-45)">225</text>
<line x1="419.78" y1="441.1" x2="419.78" y2="444.1" stroke="#1a1a1a" stroke-width="1" />
<text x="0" y="0" font-size="8.6" font-weight="bold" text-anchor="end" transform="translate(423.08,450.5) rotate(-45)">270</text>
<line x1="436.92" y1="441.1" x2="436.92" y2="444.1" stroke="#1a1a1a" stroke-width="1" />
<text x="0" y="0" font-size="8.6" font-weight="bold" text-anchor="end" transform="translate(440.22,450.5) rotate(-45)">315</text>
<line x1="454.06" y1="441.1" x2="454.06" y2="444.1" stroke="#1a1a1a" stroke-width="1" />
<text x="0" y="0" font-size="8.6" font-weight="bold" text-anchor="end" transform="translate(457.36,450.5) rotate(-45)">0</text>
<line x1="471.2" y1="441.1" x2="471.2" y2="444.1" stroke="#1a1a1a" stroke-width="1" />
<text x="0" y="0" font-size="8.6" font-weight="bold" text-anchor="end" transform="translate(474.5,450.5) rotate(-45)">45</text>
<line x1="488.34" y1="441.1" x2="488.34" y2="444.1" stroke="#1a1a1a" stroke-width="1" />
<text x="0" y="0" font-size="8.6" font-weight="bold" text-anchor="end" transform="translate(491.64,450.5) rotate(-45)">90</text>
<line x1="505.48" y1="441.1" x2="505.48" y2="444.1" stroke="#1a1a1a" stroke-width="1" />
<text x="0" y="0" font-size="8.6" font-weight="bold" text-anchor="end" transform="translate(508.78,450.5) rotate(-45)">135</text>
<text x="452.7" y="467.4" font-size="8.36" font-weight="bold" text-anchor="middle" fill="#000" >Degrees from Escape Hole</text>
<text x="0" y="0" font-size="8.2" font-weight="bold" text-anchor="middle" transform="translate(360.6,385.1) rotate(-90)">Time (sec)</text>
<text x="446" y="342.7" font-size="8.3" font-weight="bold" text-anchor="middle" fill="#000" >KO-350</text>
<polyline points="385.5,436.35 402.64,435.05 419.78,418.2 436.92,413.45 454.06,378.46 471.2,391.85 488.34,412.59 505.48,432.46" fill="none" stroke="#7b2c85" stroke-width="0.9"/>
<line x1="385.5" y1="435.05" x2="385.5" y2="437.64" stroke="#7b2c85" stroke-width="0.9" />
<line x1="383.6" y1="435.05" x2="387.4" y2="435.05" stroke="#7b2c85" stroke-width="0.9" />
<line x1="383.6" y1="437.64" x2="387.4" y2="437.64" stroke="#7b2c85" stroke-width="0.9" />
<line x1="402.64" y1="433.76" x2="402.64" y2="436.35" stroke="#7b2c85" stroke-width="0.9" />
<line x1="400.74" y1="433.76" x2="404.54" y2="433.76" stroke="#7b2c85" stroke-width="0.9" />
<line x1="400.74" y1="436.35" x2="404.54" y2="436.35" stroke="#7b2c85" stroke-width="0.9" />
<line x1="419.78" y1="413.88" x2="419.78" y2="422.52" stroke="#7b2c85" stroke-width="0.9" />
<line x1="417.88" y1="413.88" x2="421.68" y2="413.88" stroke="#7b2c85" stroke-width="0.9" />
<line x1="417.88" y1="422.52" x2="421.68" y2="422.52" stroke="#7b2c85" stroke-width="0.9" />
<line x1="436.92" y1="408.7" x2="436.92" y2="418.2" stroke="#7b2c85" stroke-width="0.9" />
<line x1="435.02" y1="408.7" x2="438.82" y2="408.7" stroke="#7b2c85" stroke-width="0.9" />
<line x1="435.02" y1="418.2" x2="438.82" y2="418.2" stroke="#7b2c85" stroke-width="0.9" />
<line x1="454.06" y1="369.39" x2="454.06" y2="387.53" stroke="#7b2c85" stroke-width="0.9" />
<line x1="452.16" y1="369.39" x2="455.96" y2="369.39" stroke="#7b2c85" stroke-width="0.9" />
<line x1="452.16" y1="387.53" x2="455.96" y2="387.53" stroke="#7b2c85" stroke-width="0.9" />
<line x1="471.2" y1="378.89" x2="471.2" y2="404.81" stroke="#7b2c85" stroke-width="0.9" />
<line x1="469.3" y1="378.89" x2="473.1" y2="378.89" stroke="#7b2c85" stroke-width="0.9" />
<line x1="469.3" y1="404.81" x2="473.1" y2="404.81" stroke="#7b2c85" stroke-width="0.9" />
<line x1="488.34" y1="405.24" x2="488.34" y2="419.93" stroke="#7b2c85" stroke-width="0.9" />
<line x1="486.44" y1="405.24" x2="490.24" y2="405.24" stroke="#7b2c85" stroke-width="0.9" />
<line x1="486.44" y1="419.93" x2="490.24" y2="419.93" stroke="#7b2c85" stroke-width="0.9" />
<line x1="505.48" y1="429.44" x2="505.48" y2="435.48" stroke="#7b2c85" stroke-width="0.9" />
<line x1="503.58" y1="429.44" x2="507.38" y2="429.44" stroke="#7b2c85" stroke-width="0.9" />
<line x1="503.58" y1="435.48" x2="507.38" y2="435.48" stroke="#7b2c85" stroke-width="0.9" />
<circle cx="385.5" cy="436.35" r="2.2" fill="#7b2c85" stroke="#7b2c85" stroke-width="0.6"/>
<circle cx="402.64" cy="435.05" r="2.2" fill="#7b2c85" stroke="#7b2c85" stroke-width="0.6"/>
<circle cx="419.78" cy="418.2" r="2.2" fill="#7b2c85" stroke="#7b2c85" stroke-width="0.6"/>
<circle cx="436.92" cy="413.45" r="2.2" fill="#7b2c85" stroke="#7b2c85" stroke-width="0.6"/>
<circle cx="454.06" cy="378.46" r="2.2" fill="#7b2c85" stroke="#7b2c85" stroke-width="0.6"/>
<circle cx="471.2" cy="391.85" r="2.2" fill="#7b2c85" stroke="#7b2c85" stroke-width="0.6"/>
<circle cx="488.34" cy="412.59" r="2.2" fill="#7b2c85" stroke="#7b2c85" stroke-width="0.6"/>
<circle cx="505.48" cy="432.46" r="2.2" fill="#7b2c85" stroke="#7b2c85" stroke-width="0.6"/>
<use href="#star" x="379.57" y="431.85" fill="#000"/>
<use href="#star" x="383.52" y="431.85" fill="#000"/>
<use href="#star" x="387.47" y="431.85" fill="#000"/>
<use href="#star" x="391.43" y="431.85" fill="#000"/>
<use href="#star" x="396.71" y="430.55" fill="#000"/>
<use href="#star" x="400.66" y="430.55" fill="#000"/>
<use href="#star" x="404.61" y="430.55" fill="#000"/>
<use href="#star" x="408.56" y="430.55" fill="#000"/>
<use href="#star" x="417.8" y="411.18" fill="#000"/>
<use href="#star" x="421.75" y="411.18" fill="#000"/>
<use href="#star" x="434.94" y="406" fill="#000"/>
<use href="#star" x="438.89" y="406" fill="#000"/>
<use href="#star" x="488.34" y="402.54" fill="#000"/>
<use href="#star" x="499.56" y="426.74" fill="#000"/>
<use href="#star" x="503.5" y="426.74" fill="#000"/>
<use href="#star" x="507.45" y="426.74" fill="#000"/>
<use href="#star" x="511.41" y="426.74" fill="#000"/>
<line x1="28.3" y1="507.3" x2="28.3" y2="616.1" stroke="#1a1a1a" stroke-width="1.25" />
<line x1="27.8" y1="615.5" x2="160.9" y2="615.5" stroke="#3a3a3a" stroke-width="1.3" />
<line x1="25.3" y1="615.5" x2="28.3" y2="615.5" stroke="#1a1a1a" stroke-width="1" />
<text x="25.1" y="619" font-size="8.5" font-weight="bold" text-anchor="end" fill="#000" >0</text>
<line x1="25.3" y1="579.6" x2="28.3" y2="579.6" stroke="#1a1a1a" stroke-width="1" />
<text x="25.1" y="583.1" font-size="8.5" font-weight="bold" text-anchor="end" fill="#000" >5</text>
<line x1="25.3" y1="543.7" x2="28.3" y2="543.7" stroke="#1a1a1a" stroke-width="1" />
<text x="25.1" y="547.2" font-size="8.5" font-weight="bold" text-anchor="end" fill="#000" >10</text>
<line x1="25.3" y1="507.8" x2="28.3" y2="507.8" stroke="#1a1a1a" stroke-width="1" />
<text x="25.1" y="511.3" font-size="8.5" font-weight="bold" text-anchor="end" fill="#000" >15</text>
<line x1="36.6" y1="615.5" x2="36.6" y2="618.5" stroke="#1a1a1a" stroke-width="1" />
<text x="0" y="0" font-size="8.6" font-weight="bold" text-anchor="end" transform="translate(39.9,624.9) rotate(-45)">180</text>
<line x1="53.2" y1="615.5" x2="53.2" y2="618.5" stroke="#1a1a1a" stroke-width="1" />
<text x="0" y="0" font-size="8.6" font-weight="bold" text-anchor="end" transform="translate(56.5,624.9) rotate(-45)">225</text>
<line x1="69.8" y1="615.5" x2="69.8" y2="618.5" stroke="#1a1a1a" stroke-width="1" />
<text x="0" y="0" font-size="8.6" font-weight="bold" text-anchor="end" transform="translate(73.1,624.9) rotate(-45)">270</text>
<line x1="86.4" y1="615.5" x2="86.4" y2="618.5" stroke="#1a1a1a" stroke-width="1" />
<text x="0" y="0" font-size="8.6" font-weight="bold" text-anchor="end" transform="translate(89.7,624.9) rotate(-45)">315</text>
<line x1="103" y1="615.5" x2="103" y2="618.5" stroke="#1a1a1a" stroke-width="1" />
<text x="0" y="0" font-size="8.6" font-weight="bold" text-anchor="end" transform="translate(106.3,624.9) rotate(-45)">0</text>
<line x1="119.6" y1="615.5" x2="119.6" y2="618.5" stroke="#1a1a1a" stroke-width="1" />
<text x="0" y="0" font-size="8.6" font-weight="bold" text-anchor="end" transform="translate(122.9,624.9) rotate(-45)">45</text>
<line x1="136.2" y1="615.5" x2="136.2" y2="618.5" stroke="#1a1a1a" stroke-width="1" />
<text x="0" y="0" font-size="8.6" font-weight="bold" text-anchor="end" transform="translate(139.5,624.9) rotate(-45)">90</text>
<line x1="152.8" y1="615.5" x2="152.8" y2="618.5" stroke="#1a1a1a" stroke-width="1" />
<text x="0" y="0" font-size="8.6" font-weight="bold" text-anchor="end" transform="translate(156.1,624.9) rotate(-45)">135</text>
<text x="94.5" y="641.8" font-size="8.36" font-weight="bold" text-anchor="middle" fill="#000" >Degrees from Escape Hole</text>
<text x="0" y="0" font-size="8.2" font-weight="bold" text-anchor="middle" transform="translate(12.1,559.65) rotate(-90)">Time (sec)</text>
<text x="94.8" y="515.4" font-size="8.3" font-weight="bold" text-anchor="middle" fill="#000" >WT</text>
<polyline points="36.6,606.88 53.2,596.83 69.8,606.17 86.4,595.04 103,532.57 119.6,600.06 136.2,601.5 152.8,602.93" fill="none" stroke="#8a8a8a" stroke-width="0.9"/>
<line x1="36.6" y1="603.29" x2="36.6" y2="610.47" stroke="#8a8a8a" stroke-width="0.9" />
<line x1="34.7" y1="603.29" x2="38.5" y2="603.29" stroke="#8a8a8a" stroke-width="0.9" />
<line x1="34.7" y1="610.47" x2="38.5" y2="610.47" stroke="#8a8a8a" stroke-width="0.9" />
<line x1="53.2" y1="591.81" x2="53.2" y2="601.86" stroke="#8a8a8a" stroke-width="0.9" />
<line x1="51.3" y1="591.81" x2="55.1" y2="591.81" stroke="#8a8a8a" stroke-width="0.9" />
<line x1="51.3" y1="601.86" x2="55.1" y2="601.86" stroke="#8a8a8a" stroke-width="0.9" />
<line x1="69.8" y1="602.58" x2="69.8" y2="609.76" stroke="#8a8a8a" stroke-width="0.9" />
<line x1="67.9" y1="602.58" x2="71.7" y2="602.58" stroke="#8a8a8a" stroke-width="0.9" />
<line x1="67.9" y1="609.76" x2="71.7" y2="609.76" stroke="#8a8a8a" stroke-width="0.9" />
<line x1="86.4" y1="588.58" x2="86.4" y2="601.5" stroke="#8a8a8a" stroke-width="0.9" />
<line x1="84.5" y1="588.58" x2="88.3" y2="588.58" stroke="#8a8a8a" stroke-width="0.9" />
<line x1="84.5" y1="601.5" x2="88.3" y2="601.5" stroke="#8a8a8a" stroke-width="0.9" />
<line x1="103" y1="520.37" x2="103" y2="544.78" stroke="#8a8a8a" stroke-width="0.9" />
<line x1="101.1" y1="520.37" x2="104.9" y2="520.37" stroke="#8a8a8a" stroke-width="0.9" />
<line x1="101.1" y1="544.78" x2="104.9" y2="544.78" stroke="#8a8a8a" stroke-width="0.9" />
<line x1="119.6" y1="595.04" x2="119.6" y2="605.09" stroke="#8a8a8a" stroke-width="0.9" />
<line x1="117.7" y1="595.04" x2="121.5" y2="595.04" stroke="#8a8a8a" stroke-width="0.9" />
<line x1="117.7" y1="605.09" x2="121.5" y2="605.09" stroke="#8a8a8a" stroke-width="0.9" />
<line x1="136.2" y1="594.32" x2="136.2" y2="608.68" stroke="#8a8a8a" stroke-width="0.9" />
<line x1="134.3" y1="594.32" x2="138.1" y2="594.32" stroke="#8a8a8a" stroke-width="0.9" />
<line x1="134.3" y1="608.68" x2="138.1" y2="608.68" stroke="#8a8a8a" stroke-width="0.9" />
<line x1="152.8" y1="596.47" x2="152.8" y2="609.4" stroke="#8a8a8a" stroke-width="0.9" />
<line x1="150.9" y1="596.47" x2="154.7" y2="596.47" stroke="#8a8a8a" stroke-width="0.9" />
<line x1="150.9" y1="609.4" x2="154.7" y2="609.4" stroke="#8a8a8a" stroke-width="0.9" />
<circle cx="36.6" cy="606.88" r="2.2" fill="#9c9c9c" stroke="#7c7c7c" stroke-width="0.6"/>
<circle cx="53.2" cy="596.83" r="2.2" fill="#9c9c9c" stroke="#7c7c7c" stroke-width="0.6"/>
<circle cx="69.8" cy="606.17" r="2.2" fill="#9c9c9c" stroke="#7c7c7c" stroke-width="0.6"/>
<circle cx="86.4" cy="595.04" r="2.2" fill="#9c9c9c" stroke="#7c7c7c" stroke-width="0.6"/>
<circle cx="103" cy="532.57" r="2.2" fill="#9c9c9c" stroke="#7c7c7c" stroke-width="0.6"/>
<circle cx="119.6" cy="600.06" r="2.2" fill="#9c9c9c" stroke="#7c7c7c" stroke-width="0.6"/>
<circle cx="136.2" cy="601.5" r="2.2" fill="#9c9c9c" stroke="#7c7c7c" stroke-width="0.6"/>
<circle cx="152.8" cy="602.93" r="2.2" fill="#9c9c9c" stroke="#7c7c7c" stroke-width="0.6"/>
<use href="#star" x="34.62" y="600.59" fill="#000"/>
<use href="#star" x="38.58" y="600.59" fill="#000"/>
<use href="#star" x="53.2" y="589.11" fill="#000"/>
<use href="#star" x="67.83" y="599.88" fill="#000"/>
<use href="#star" x="71.78" y="599.88" fill="#000"/>
<use href="#star" x="86.4" y="585.88" fill="#000"/>
<use href="#star" x="119.6" y="592.34" fill="#000"/>
<use href="#star" x="136.2" y="591.62" fill="#000"/>
<use href="#star" x="152.8" y="593.77" fill="#000"/>
<line x1="201.5" y1="506.6" x2="201.5" y2="616.7" stroke="#1a1a1a" stroke-width="1.25" />
<line x1="201" y1="616.1" x2="334.7" y2="616.1" stroke="#3a3a3a" stroke-width="1.3" />
<line x1="198.5" y1="616.1" x2="201.5" y2="616.1" stroke="#1a1a1a" stroke-width="1" />
<text x="198.3" y="619.6" font-size="8.5" font-weight="bold" text-anchor="end" fill="#000" >0</text>
<line x1="198.5" y1="579.77" x2="201.5" y2="579.77" stroke="#1a1a1a" stroke-width="1" />
<text x="198.3" y="583.27" font-size="8.5" font-weight="bold" text-anchor="end" fill="#000" >5</text>
<line x1="198.5" y1="543.43" x2="201.5" y2="543.43" stroke="#1a1a1a" stroke-width="1" />
<text x="198.3" y="546.93" font-size="8.5" font-weight="bold" text-anchor="end" fill="#000" >10</text>
<line x1="198.5" y1="507.1" x2="201.5" y2="507.1" stroke="#1a1a1a" stroke-width="1" />
<text x="198.3" y="510.6" font-size="8.5" font-weight="bold" text-anchor="end" fill="#000" >15</text>
<line x1="210.2" y1="616.1" x2="210.2" y2="619.1" stroke="#1a1a1a" stroke-width="1" />
<text x="0" y="0" font-size="8.6" font-weight="bold" text-anchor="end" transform="translate(213.5,625.5) rotate(-45)">180</text>
<line x1="226.83" y1="616.1" x2="226.83" y2="619.1" stroke="#1a1a1a" stroke-width="1" />
<text x="0" y="0" font-size="8.6" font-weight="bold" text-anchor="end" transform="translate(230.13,625.5) rotate(-45)">225</text>
<line x1="243.46" y1="616.1" x2="243.46" y2="619.1" stroke="#1a1a1a" stroke-width="1" />
<text x="0" y="0" font-size="8.6" font-weight="bold" text-anchor="end" transform="translate(246.76,625.5) rotate(-45)">270</text>
<line x1="260.09" y1="616.1" x2="260.09" y2="619.1" stroke="#1a1a1a" stroke-width="1" />
<text x="0" y="0" font-size="8.6" font-weight="bold" text-anchor="end" transform="translate(263.39,625.5) rotate(-45)">315</text>
<line x1="276.72" y1="616.1" x2="276.72" y2="619.1" stroke="#1a1a1a" stroke-width="1" />
<text x="0" y="0" font-size="8.6" font-weight="bold" text-anchor="end" transform="translate(280.02,625.5) rotate(-45)">0</text>
<line x1="293.35" y1="616.1" x2="293.35" y2="619.1" stroke="#1a1a1a" stroke-width="1" />
<text x="0" y="0" font-size="8.6" font-weight="bold" text-anchor="end" transform="translate(296.65,625.5) rotate(-45)">45</text>
<line x1="309.98" y1="616.1" x2="309.98" y2="619.1" stroke="#1a1a1a" stroke-width="1" />
<text x="0" y="0" font-size="8.6" font-weight="bold" text-anchor="end" transform="translate(313.28,625.5) rotate(-45)">90</text>
<line x1="326.61" y1="616.1" x2="326.61" y2="619.1" stroke="#1a1a1a" stroke-width="1" />
<text x="0" y="0" font-size="8.6" font-weight="bold" text-anchor="end" transform="translate(329.91,625.5) rotate(-45)">135</text>
<text x="268.5" y="642.4" font-size="8.36" font-weight="bold" text-anchor="middle" fill="#000" >Degrees from Escape Hole</text>
<text x="0" y="0" font-size="8.2" font-weight="bold" text-anchor="middle" transform="translate(185.3,559.6) rotate(-90)">Time (sec)</text>
<text x="268.5" y="516.4" font-size="8.3" font-weight="bold" text-anchor="middle" fill="#000" >KO-Veh</text>
<polyline points="210.2,605.56 226.83,600.11 243.46,597.93 260.09,587.03 276.72,569.59 293.35,544.89 309.98,592.12 326.61,604.84" fill="none" stroke="#ef8a90" stroke-width="0.9"/>
<line x1="210.2" y1="601.2" x2="210.2" y2="609.92" stroke="#ef8a90" stroke-width="0.9" />
<line x1="208.3" y1="601.2" x2="212.1" y2="601.2" stroke="#ef8a90" stroke-width="0.9" />
<line x1="208.3" y1="609.92" x2="212.1" y2="609.92" stroke="#ef8a90" stroke-width="0.9" />
<line x1="226.83" y1="595.75" x2="226.83" y2="604.47" stroke="#ef8a90" stroke-width="0.9" />
<line x1="224.93" y1="595.75" x2="228.73" y2="595.75" stroke="#ef8a90" stroke-width="0.9" />
<line x1="224.93" y1="604.47" x2="228.73" y2="604.47" stroke="#ef8a90" stroke-width="0.9" />
<line x1="243.46" y1="593.57" x2="243.46" y2="602.29" stroke="#ef8a90" stroke-width="0.9" />
<line x1="241.56" y1="593.57" x2="245.36" y2="593.57" stroke="#ef8a90" stroke-width="0.9" />
<line x1="241.56" y1="602.29" x2="245.36" y2="602.29" stroke="#ef8a90" stroke-width="0.9" />
<line x1="260.09" y1="580.49" x2="260.09" y2="593.57" stroke="#ef8a90" stroke-width="0.9" />
<line x1="258.19" y1="580.49" x2="261.99" y2="580.49" stroke="#ef8a90" stroke-width="0.9" />
<line x1="258.19" y1="593.57" x2="261.99" y2="593.57" stroke="#ef8a90" stroke-width="0.9" />
<line x1="276.72" y1="560.15" x2="276.72" y2="579.04" stroke="#ef8a90" stroke-width="0.9" />
<line x1="274.82" y1="560.15" x2="278.62" y2="560.15" stroke="#ef8a90" stroke-width="0.9" />
<line x1="274.82" y1="579.04" x2="278.62" y2="579.04" stroke="#ef8a90" stroke-width="0.9" />
<line x1="293.35" y1="522.36" x2="293.35" y2="567.41" stroke="#ef8a90" stroke-width="0.9" />
<line x1="291.45" y1="522.36" x2="295.25" y2="522.36" stroke="#ef8a90" stroke-width="0.9" />
<line x1="291.45" y1="567.41" x2="295.25" y2="567.41" stroke="#ef8a90" stroke-width="0.9" />
<line x1="309.98" y1="583.4" x2="309.98" y2="600.84" stroke="#ef8a90" stroke-width="0.9" />
<line x1="308.08" y1="583.4" x2="311.88" y2="583.4" stroke="#ef8a90" stroke-width="0.9" />
<line x1="308.08" y1="600.84" x2="311.88" y2="600.84" stroke="#ef8a90" stroke-width="0.9" />
<line x1="326.61" y1="601.2" x2="326.61" y2="608.47" stroke="#ef8a90" stroke-width="0.9" />
<line x1="324.71" y1="601.2" x2="328.51" y2="601.2" stroke="#ef8a90" stroke-width="0.9" />
<line x1="324.71" y1="608.47" x2="328.51" y2="608.47" stroke="#ef8a90" stroke-width="0.9" />
<circle cx="210.2" cy="605.56" r="2.2" fill="#ef8a90" stroke="#ef8a90" stroke-width="0.6"/>
<circle cx="226.83" cy="600.11" r="2.2" fill="#ef8a90" stroke="#ef8a90" stroke-width="0.6"/>
<circle cx="243.46" cy="597.93" r="2.2" fill="#ef8a90" stroke="#ef8a90" stroke-width="0.6"/>
<circle cx="260.09" cy="587.03" r="2.2" fill="#ef8a90" stroke="#ef8a90" stroke-width="0.6"/>
<circle cx="276.72" cy="569.59" r="2.2" fill="#ef8a90" stroke="#ef8a90" stroke-width="0.6"/>
<circle cx="293.35" cy="544.89" r="2.2" fill="#ef8a90" stroke="#ef8a90" stroke-width="0.6"/>
<circle cx="309.98" cy="592.12" r="2.2" fill="#ef8a90" stroke="#ef8a90" stroke-width="0.6"/>
<circle cx="326.61" cy="604.84" r="2.2" fill="#ef8a90" stroke="#ef8a90" stroke-width="0.6"/>
<use href="#star" x="210.2" y="598.5" fill="#000"/>
<use href="#star" x="226.83" y="593.05" fill="#000"/>
<use href="#star" x="243.46" y="590.87" fill="#000"/>
<use href="#star" x="326.61" y="598.5" fill="#000"/>
<line x1="376.8" y1="507.1" x2="376.8" y2="616.4" stroke="#1a1a1a" stroke-width="1.25" />
<line x1="376.3" y1="615.8" x2="508.2" y2="615.8" stroke="#3a3a3a" stroke-width="1.3" />
<line x1="373.8" y1="615.8" x2="376.8" y2="615.8" stroke="#1a1a1a" stroke-width="1" />
<text x="373.6" y="619.3" font-size="8.5" font-weight="bold" text-anchor="end" fill="#000" >0</text>
<line x1="373.8" y1="579.73" x2="376.8" y2="579.73" stroke="#1a1a1a" stroke-width="1" />
<text x="373.6" y="583.23" font-size="8.5" font-weight="bold" text-anchor="end" fill="#000" >5</text>
<line x1="373.8" y1="543.67" x2="376.8" y2="543.67" stroke="#1a1a1a" stroke-width="1" />
<text x="373.6" y="547.17" font-size="8.5" font-weight="bold" text-anchor="end" fill="#000" >10</text>
<line x1="373.8" y1="507.6" x2="376.8" y2="507.6" stroke="#1a1a1a" stroke-width="1" />
<text x="373.6" y="511.1" font-size="8.5" font-weight="bold" text-anchor="end" fill="#000" >15</text>
<line x1="385.5" y1="615.8" x2="385.5" y2="618.8" stroke="#1a1a1a" stroke-width="1" />
<text x="0" y="0" font-size="8.6" font-weight="bold" text-anchor="end" transform="translate(388.8,625.2) rotate(-45)">180</text>
<line x1="401.97" y1="615.8" x2="401.97" y2="618.8" stroke="#1a1a1a" stroke-width="1" />
<text x="0" y="0" font-size="8.6" font-weight="bold" text-anchor="end" transform="translate(405.27,625.2) rotate(-45)">225</text>
<line x1="418.44" y1="615.8" x2="418.44" y2="618.8" stroke="#1a1a1a" stroke-width="1" />
<text x="0" y="0" font-size="8.6" font-weight="bold" text-anchor="end" transform="translate(421.74,625.2) rotate(-45)">270</text>
<line x1="434.91" y1="615.8" x2="434.91" y2="618.8" stroke="#1a1a1a" stroke-width="1" />
<text x="0" y="0" font-size="8.6" font-weight="bold" text-anchor="end" transform="translate(438.21,625.2) rotate(-45)">315</text>
<line x1="451.38" y1="615.8" x2="451.38" y2="618.8" stroke="#1a1a1a" stroke-width="1" />
<text x="0" y="0" font-size="8.6" font-weight="bold" text-anchor="end" transform="translate(454.68,625.2) rotate(-45)">0</text>
<line x1="467.85" y1="615.8" x2="467.85" y2="618.8" stroke="#1a1a1a" stroke-width="1" />
<text x="0" y="0" font-size="8.6" font-weight="bold" text-anchor="end" transform="translate(471.15,625.2) rotate(-45)">45</text>
<line x1="484.32" y1="615.8" x2="484.32" y2="618.8" stroke="#1a1a1a" stroke-width="1" />
<text x="0" y="0" font-size="8.6" font-weight="bold" text-anchor="end" transform="translate(487.62,625.2) rotate(-45)">90</text>
<line x1="500.79" y1="615.8" x2="500.79" y2="618.8" stroke="#1a1a1a" stroke-width="1" />
<text x="0" y="0" font-size="8.6" font-weight="bold" text-anchor="end" transform="translate(504.09,625.2) rotate(-45)">135</text>
<text x="443.4" y="642.1" font-size="8.36" font-weight="bold" text-anchor="middle" fill="#000" >Degrees from Escape Hole</text>
<text x="0" y="0" font-size="8.2" font-weight="bold" text-anchor="middle" transform="translate(360.6,559.7) rotate(-90)">Time (sec)</text>
<text x="443" y="516.4" font-size="8.3" font-weight="bold" text-anchor="middle" fill="#000" >KO-350</text>
<polyline points="385.5,611.47 401.97,608.95 418.44,587.31 434.91,582.26 451.38,556.29 467.85,553.77 484.32,599.21 500.79,611.47" fill="none" stroke="#7b2c85" stroke-width="0.9"/>
<line x1="385.5" y1="610.03" x2="385.5" y2="612.91" stroke="#7b2c85" stroke-width="0.9" />
<line x1="383.6" y1="610.03" x2="387.4" y2="610.03" stroke="#7b2c85" stroke-width="0.9" />
<line x1="383.6" y1="612.91" x2="387.4" y2="612.91" stroke="#7b2c85" stroke-width="0.9" />
<line x1="401.97" y1="606.78" x2="401.97" y2="611.11" stroke="#7b2c85" stroke-width="0.9" />
<line x1="400.07" y1="606.78" x2="403.87" y2="606.78" stroke="#7b2c85" stroke-width="0.9" />
<line x1="400.07" y1="611.11" x2="403.87" y2="611.11" stroke="#7b2c85" stroke-width="0.9" />
<line x1="418.44" y1="578.29" x2="418.44" y2="596.32" stroke="#7b2c85" stroke-width="0.9" />
<line x1="416.54" y1="578.29" x2="420.34" y2="578.29" stroke="#7b2c85" stroke-width="0.9" />
<line x1="416.54" y1="596.32" x2="420.34" y2="596.32" stroke="#7b2c85" stroke-width="0.9" />
<line x1="434.91" y1="577.21" x2="434.91" y2="587.31" stroke="#7b2c85" stroke-width="0.9" />
<line x1="433.01" y1="577.21" x2="436.81" y2="577.21" stroke="#7b2c85" stroke-width="0.9" />
<line x1="433.01" y1="587.31" x2="436.81" y2="587.31" stroke="#7b2c85" stroke-width="0.9" />
<line x1="451.38" y1="544.75" x2="451.38" y2="567.83" stroke="#7b2c85" stroke-width="0.9" />
<line x1="449.48" y1="544.75" x2="453.28" y2="544.75" stroke="#7b2c85" stroke-width="0.9" />
<line x1="449.48" y1="567.83" x2="453.28" y2="567.83" stroke="#7b2c85" stroke-width="0.9" />
<line x1="467.85" y1="542.22" x2="467.85" y2="565.31" stroke="#7b2c85" stroke-width="0.9" />
<line x1="465.95" y1="542.22" x2="469.75" y2="542.22" stroke="#7b2c85" stroke-width="0.9" />
<line x1="465.95" y1="565.31" x2="469.75" y2="565.31" stroke="#7b2c85" stroke-width="0.9" />
<line x1="484.32" y1="595.6" x2="484.32" y2="602.82" stroke="#7b2c85" stroke-width="0.9" />
<line x1="482.42" y1="595.6" x2="486.22" y2="595.6" stroke="#7b2c85" stroke-width="0.9" />
<line x1="482.42" y1="602.82" x2="486.22" y2="602.82" stroke="#7b2c85" stroke-width="0.9" />
<line x1="500.79" y1="610.03" x2="500.79" y2="612.91" stroke="#7b2c85" stroke-width="0.9" />
<line x1="498.89" y1="610.03" x2="502.69" y2="610.03" stroke="#7b2c85" stroke-width="0.9" />
<line x1="498.89" y1="612.91" x2="502.69" y2="612.91" stroke="#7b2c85" stroke-width="0.9" />
<circle cx="385.5" cy="611.47" r="2.2" fill="#7b2c85" stroke="#7b2c85" stroke-width="0.6"/>
<circle cx="401.97" cy="608.95" r="2.2" fill="#7b2c85" stroke="#7b2c85" stroke-width="0.6"/>
<circle cx="418.44" cy="587.31" r="2.2" fill="#7b2c85" stroke="#7b2c85" stroke-width="0.6"/>
<circle cx="434.91" cy="582.26" r="2.2" fill="#7b2c85" stroke="#7b2c85" stroke-width="0.6"/>
<circle cx="451.38" cy="556.29" r="2.2" fill="#7b2c85" stroke="#7b2c85" stroke-width="0.6"/>
<circle cx="467.85" cy="553.77" r="2.2" fill="#7b2c85" stroke="#7b2c85" stroke-width="0.6"/>
<circle cx="484.32" cy="599.21" r="2.2" fill="#7b2c85" stroke="#7b2c85" stroke-width="0.6"/>
<circle cx="500.79" cy="611.47" r="2.2" fill="#7b2c85" stroke="#7b2c85" stroke-width="0.6"/>
<use href="#star" x="385.5" y="606.97" fill="#000"/>
<use href="#star" x="401.97" y="604.08" fill="#000"/>
<use href="#star" x="418.44" y="575.59" fill="#000"/>
<use href="#star" x="434.91" y="574.51" fill="#000"/>
<use href="#star" x="484.32" y="592.9" fill="#000"/>
<use href="#star" x="500.79" y="606.97" fill="#000"/>
<line x1="562.3" y1="336.1" x2="562.3" y2="456.9" stroke="#1a1a1a" stroke-width="1.2" />
<line x1="559.3" y1="456.3" x2="562.3" y2="456.3" stroke="#1a1a1a" stroke-width="1" />
<text x="558.3" y="459.7" font-size="9.0" font-weight="bold" text-anchor="end" fill="#000" >0</text>
<line x1="559.3" y1="426.38" x2="562.3" y2="426.38" stroke="#1a1a1a" stroke-width="1" />
<text x="558.3" y="429.77" font-size="9.0" font-weight="bold" text-anchor="end" fill="#000" >10</text>
<line x1="559.3" y1="396.45" x2="562.3" y2="396.45" stroke="#1a1a1a" stroke-width="1" />
<text x="558.3" y="399.85" font-size="9.0" font-weight="bold" text-anchor="end" fill="#000" >20</text>
<line x1="559.3" y1="366.53" x2="562.3" y2="366.53" stroke="#1a1a1a" stroke-width="1" />
<text x="558.3" y="369.93" font-size="9.0" font-weight="bold" text-anchor="end" fill="#000" >30</text>
<line x1="559.3" y1="336.6" x2="562.3" y2="336.6" stroke="#1a1a1a" stroke-width="1" />
<text x="558.3" y="340" font-size="9.0" font-weight="bold" text-anchor="end" fill="#000" >40</text>
<rect x="566.4" y="405.43" width="32.1" height="50.87" fill="#d5d5d5" stroke="#8c8c8c" stroke-width="1.1"/>
<rect x="603.4" y="436.55" width="32.3" height="19.75" fill="#f8e0e2" stroke="#ef8a90" stroke-width="1.1"/>
<rect x="639.4" y="413.51" width="33.2" height="42.79" fill="#bd8ac5" stroke="#6a2a76" stroke-width="1.1"/>
<line x1="582.2" y1="398.8" x2="582.2" y2="411.4" stroke="#b9b9b9" stroke-width="1" />
<line x1="574" y1="398.8" x2="590.4" y2="398.8" stroke="#b9b9b9" stroke-width="1.1" />
<line x1="574" y1="411.4" x2="590.4" y2="411.4" stroke="#7f7f7f" stroke-width="1.1" />
<line x1="582.2" y1="405.43" x2="582.2" y2="411.4" stroke="#7f7f7f" stroke-width="1" />
<line x1="619.2" y1="432" x2="619.2" y2="439.6" stroke="#f3b3b7" stroke-width="1" />
<line x1="611.3" y1="432" x2="627.1" y2="432" stroke="#f3b3b7" stroke-width="1.1" />
<line x1="611.3" y1="439.6" x2="627.1" y2="439.6" stroke="#ef8a90" stroke-width="1.1" />
<line x1="619.2" y1="436.55" x2="619.2" y2="439.6" stroke="#ef8a90" stroke-width="1" />
<line x1="656" y1="406.5" x2="656" y2="419.4" stroke="#c79fd0" stroke-width="1" />
<line x1="647.9" y1="406.5" x2="664.1" y2="406.5" stroke="#c79fd0" stroke-width="1.1" />
<line x1="647.9" y1="419.4" x2="664.1" y2="419.4" stroke="#5d1f68" stroke-width="1.1" />
<line x1="656" y1="413.51" x2="656" y2="419.4" stroke="#5d1f68" stroke-width="1" />
<circle cx="582.2" cy="349.47" r="2.15" fill="#979797" stroke="#888888" stroke-width="0.5"/>
<circle cx="582.2" cy="397.95" r="2.15" fill="#979797" stroke="#888888" stroke-width="0.5"/>
<circle cx="590.1" cy="395.55" r="2.15" fill="#979797" stroke="#888888" stroke-width="0.5"/>
<circle cx="590.1" cy="405.43" r="2.15" fill="#979797" stroke="#888888" stroke-width="0.5"/>
<circle cx="582.2" cy="408.72" r="2.15" fill="#979797" stroke="#888888" stroke-width="0.5"/>
<circle cx="574.2" cy="414.11" r="2.15" fill="#979797" stroke="#888888" stroke-width="0.5"/>
<circle cx="582.2" cy="413.81" r="2.15" fill="#979797" stroke="#888888" stroke-width="0.5"/>
<circle cx="590.1" cy="412.01" r="2.15" fill="#979797" stroke="#888888" stroke-width="0.5"/>
<circle cx="590.1" cy="416.2" r="2.15" fill="#979797" stroke="#888888" stroke-width="0.5"/>
<circle cx="582.2" cy="418" r="2.15" fill="#979797" stroke="#888888" stroke-width="0.5"/>
<circle cx="582.2" cy="422.78" r="2.15" fill="#979797" stroke="#888888" stroke-width="0.5"/>
<circle cx="619.2" cy="406.92" r="2.15" fill="#f08d93" stroke="#ee848b" stroke-width="0.5"/>
<circle cx="619.2" cy="411.71" r="2.15" fill="#f08d93" stroke="#ee848b" stroke-width="0.5"/>
<circle cx="611.7" cy="417.7" r="2.15" fill="#f08d93" stroke="#ee848b" stroke-width="0.5"/>
<circle cx="626.6" cy="416.8" r="2.15" fill="#f08d93" stroke="#ee848b" stroke-width="0.5"/>
<circle cx="619.2" cy="419.79" r="2.15" fill="#f08d93" stroke="#ee848b" stroke-width="0.5"/>
<circle cx="604.1" cy="430.86" r="2.15" fill="#f08d93" stroke="#ee848b" stroke-width="0.5"/>
<circle cx="611.7" cy="430.56" r="2.15" fill="#f08d93" stroke="#ee848b" stroke-width="0.5"/>
<circle cx="604.1" cy="435.35" r="2.15" fill="#f08d93" stroke="#ee848b" stroke-width="0.5"/>
<circle cx="611.7" cy="435.35" r="2.15" fill="#f08d93" stroke="#ee848b" stroke-width="0.5"/>
<circle cx="619.2" cy="434.45" r="2.15" fill="#f08d93" stroke="#ee848b" stroke-width="0.5"/>
<circle cx="626.6" cy="434.16" r="2.15" fill="#f08d93" stroke="#ee848b" stroke-width="0.5"/>
<circle cx="619.2" cy="443.13" r="2.15" fill="#f08d93" stroke="#ee848b" stroke-width="0.5"/>
<circle cx="626.6" cy="450.02" r="2.15" fill="#f08d93" stroke="#ee848b" stroke-width="0.5"/>
<circle cx="611.7" cy="453.61" r="2.15" fill="#f08d93" stroke="#ee848b" stroke-width="0.5"/>
<circle cx="604.1" cy="456.3" r="2.15" fill="#f08d93" stroke="#ee848b" stroke-width="0.5"/>
<circle cx="619.2" cy="455.1" r="2.15" fill="#f08d93" stroke="#ee848b" stroke-width="0.5"/>
<circle cx="626.6" cy="454.8" r="2.15" fill="#f08d93" stroke="#ee848b" stroke-width="0.5"/>
<circle cx="633.8" cy="456.3" r="2.15" fill="#f08d93" stroke="#ee848b" stroke-width="0.5"/>
<circle cx="656" cy="373.41" r="2.15" fill="#772a84" stroke="#682076" stroke-width="0.5"/>
<circle cx="656" cy="378.79" r="2.15" fill="#772a84" stroke="#682076" stroke-width="0.5"/>
<circle cx="656" cy="385.98" r="2.15" fill="#772a84" stroke="#682076" stroke-width="0.5"/>
<circle cx="652.2" cy="396.45" r="2.15" fill="#772a84" stroke="#682076" stroke-width="0.5"/>
<circle cx="659.9" cy="394.36" r="2.15" fill="#772a84" stroke="#682076" stroke-width="0.5"/>
<circle cx="652.2" cy="404.53" r="2.15" fill="#772a84" stroke="#682076" stroke-width="0.5"/>
<circle cx="659.9" cy="403.33" r="2.15" fill="#772a84" stroke="#682076" stroke-width="0.5"/>
<circle cx="648.3" cy="410.51" r="2.15" fill="#772a84" stroke="#682076" stroke-width="0.5"/>
<circle cx="656" cy="408.72" r="2.15" fill="#772a84" stroke="#682076" stroke-width="0.5"/>
<circle cx="663.8" cy="411.11" r="2.15" fill="#772a84" stroke="#682076" stroke-width="0.5"/>
<circle cx="656" cy="424.28" r="2.15" fill="#772a84" stroke="#682076" stroke-width="0.5"/>
<circle cx="656" cy="431.76" r="2.15" fill="#772a84" stroke="#682076" stroke-width="0.5"/>
<circle cx="656" cy="437.75" r="2.15" fill="#772a84" stroke="#682076" stroke-width="0.5"/>
<circle cx="648.3" cy="451.21" r="2.15" fill="#772a84" stroke="#682076" stroke-width="0.5"/>
<circle cx="656" cy="449.12" r="2.15" fill="#772a84" stroke="#682076" stroke-width="0.5"/>
<circle cx="663.8" cy="450.02" r="2.15" fill="#772a84" stroke="#682076" stroke-width="0.5"/>
<line x1="561.7" y1="456.3" x2="676.6" y2="456.3" stroke="#1a1a1a" stroke-width="1.3" />
<line x1="582.45" y1="456.3" x2="582.45" y2="459.3" stroke="#1a1a1a" stroke-width="1" />
<text x="582.45" y="468.2" font-size="9.0" font-weight="bold" text-anchor="middle" fill="#000" >WT</text>
<line x1="619.55" y1="456.3" x2="619.55" y2="459.3" stroke="#1a1a1a" stroke-width="1" />
<text x="619.55" y="468.2" font-size="9.0" font-weight="bold" text-anchor="middle" fill="#000" >KO-Veh</text>
<line x1="656" y1="456.3" x2="656" y2="459.3" stroke="#1a1a1a" stroke-width="1" />
<text x="656" y="468.2" font-size="9.0" font-weight="bold" text-anchor="middle" fill="#000" >KO-350</text>
<text x="0" y="0" font-size="9.1" font-weight="bold" text-anchor="middle" transform="translate(544.7,394.05) rotate(-90)">Time (sec)</text>
<polyline points="582.2,339.5 582.2,334.6 656.4,334.6 656.4,339.5" fill="none" stroke="#222" stroke-width="1.2"/><text x="616.2" y="334" font-size="9.3" font-weight="normal" text-anchor="middle" stroke="#000" stroke-width="0.3">ns</text>
<polyline points="582.2,344.8 582.2,341.5 616.2,341.5 616.2,383.7" fill="none" stroke="#222" stroke-width="1.2"/><use href="#star" transform="translate(595.15,339.3) scale(1.05)" fill="#111"/><use href="#star" transform="translate(599.45,339.3) scale(1.05)" fill="#111"/>
<polyline points="618.5,383.7 618.5,341.5 656.4,341.5 656.4,362.6" fill="none" stroke="#222" stroke-width="1.2"/><use href="#star" transform="translate(636.4,339.3) scale(1.05)" fill="#111"/>
<line x1="563.6" y1="510.5" x2="563.6" y2="631.6" stroke="#1a1a1a" stroke-width="1.2" />
<line x1="560.6" y1="631" x2="563.6" y2="631" stroke="#1a1a1a" stroke-width="1" />
<text x="559.6" y="634.4" font-size="9.0" font-weight="bold" text-anchor="end" fill="#000" >0</text>
<line x1="560.6" y1="607" x2="563.6" y2="607" stroke="#1a1a1a" stroke-width="1" />
<text x="559.6" y="610.4" font-size="9.0" font-weight="bold" text-anchor="end" fill="#000" >5</text>
<line x1="560.6" y1="583" x2="563.6" y2="583" stroke="#1a1a1a" stroke-width="1" />
<text x="559.6" y="586.4" font-size="9.0" font-weight="bold" text-anchor="end" fill="#000" >10</text>
<line x1="560.6" y1="559" x2="563.6" y2="559" stroke="#1a1a1a" stroke-width="1" />
<text x="559.6" y="562.4" font-size="9.0" font-weight="bold" text-anchor="end" fill="#000" >15</text>
<line x1="560.6" y1="535" x2="563.6" y2="535" stroke="#1a1a1a" stroke-width="1" />
<text x="559.6" y="538.4" font-size="9.0" font-weight="bold" text-anchor="end" fill="#000" >20</text>
<line x1="560.6" y1="511" x2="563.6" y2="511" stroke="#1a1a1a" stroke-width="1" />
<text x="559.6" y="514.4" font-size="9.0" font-weight="bold" text-anchor="end" fill="#000" >25</text>
<rect x="567.5" y="575.56" width="34.2" height="55.44" fill="#d5d5d5" stroke="#8c8c8c" stroke-width="1.1"/>
<rect x="606.2" y="604.6" width="34.3" height="26.4" fill="#f8e0e2" stroke="#ef8a90" stroke-width="1.1"/>
<rect x="645.1" y="591.16" width="34.5" height="39.84" fill="#bd8ac5" stroke="#6a2a76" stroke-width="1.1"/>
<line x1="584.6" y1="567.4" x2="584.6" y2="583.3" stroke="#b9b9b9" stroke-width="1" />
<line x1="576" y1="567.4" x2="593.2" y2="567.4" stroke="#b9b9b9" stroke-width="1.1" />
<line x1="576" y1="583.3" x2="593.2" y2="583.3" stroke="#7f7f7f" stroke-width="1.1" />
<line x1="584.6" y1="575.56" x2="584.6" y2="583.3" stroke="#7f7f7f" stroke-width="1" />
<line x1="623.5" y1="599.4" x2="623.5" y2="609.4" stroke="#f3b3b7" stroke-width="1" />
<line x1="615" y1="599.4" x2="632" y2="599.4" stroke="#f3b3b7" stroke-width="1.1" />
<line x1="615" y1="609.4" x2="632" y2="609.4" stroke="#ef8a90" stroke-width="1.1" />
<line x1="623.5" y1="604.6" x2="623.5" y2="609.4" stroke="#ef8a90" stroke-width="1" />
<line x1="662.3" y1="583.5" x2="662.3" y2="598.5" stroke="#c79fd0" stroke-width="1" />
<line x1="653.8" y1="583.5" x2="670.8" y2="583.5" stroke="#c79fd0" stroke-width="1.1" />
<line x1="653.8" y1="598.5" x2="670.8" y2="598.5" stroke="#5d1f68" stroke-width="1.1" />
<line x1="662.3" y1="591.16" x2="662.3" y2="598.5" stroke="#5d1f68" stroke-width="1" />
<circle cx="584.6" cy="524.92" r="2.4" fill="#979797" stroke="#888888" stroke-width="0.5"/>
<circle cx="584.6" cy="534.04" r="2.4" fill="#979797" stroke="#888888" stroke-width="0.5"/>
<circle cx="584.6" cy="546.04" r="2.4" fill="#979797" stroke="#888888" stroke-width="0.5"/>
<circle cx="584.6" cy="578.2" r="2.4" fill="#979797" stroke="#888888" stroke-width="0.5"/>
<circle cx="580.5" cy="585.4" r="2.4" fill="#979797" stroke="#888888" stroke-width="0.5"/>
<circle cx="588.5" cy="586.84" r="2.4" fill="#979797" stroke="#888888" stroke-width="0.5"/>
<circle cx="580.5" cy="590.2" r="2.4" fill="#979797" stroke="#888888" stroke-width="0.5"/>
<circle cx="588.5" cy="591.4" r="2.4" fill="#979797" stroke="#888888" stroke-width="0.5"/>
<circle cx="580.5" cy="594.52" r="2.4" fill="#979797" stroke="#888888" stroke-width="0.5"/>
<circle cx="588.5" cy="598.84" r="2.4" fill="#979797" stroke="#888888" stroke-width="0.5"/>
<circle cx="580.5" cy="600.04" r="2.4" fill="#979797" stroke="#888888" stroke-width="0.5"/>
<circle cx="623.5" cy="569.56" r="2.4" fill="#f08d93" stroke="#ee848b" stroke-width="0.5"/>
<circle cx="623.5" cy="574.84" r="2.4" fill="#f08d93" stroke="#ee848b" stroke-width="0.5"/>
<circle cx="627.6" cy="579.16" r="2.4" fill="#f08d93" stroke="#ee848b" stroke-width="0.5"/>
<circle cx="619.3" cy="581.08" r="2.4" fill="#f08d93" stroke="#ee848b" stroke-width="0.5"/>
<circle cx="615.4" cy="585.4" r="2.4" fill="#f08d93" stroke="#ee848b" stroke-width="0.5"/>
<circle cx="623.5" cy="586.84" r="2.4" fill="#f08d93" stroke="#ee848b" stroke-width="0.5"/>
<circle cx="623.5" cy="591.64" r="2.4" fill="#f08d93" stroke="#ee848b" stroke-width="0.5"/>
<circle cx="631.7" cy="604.6" r="2.4" fill="#f08d93" stroke="#ee848b" stroke-width="0.5"/>
<circle cx="623.5" cy="606.52" r="2.4" fill="#f08d93" stroke="#ee848b" stroke-width="0.5"/>
<circle cx="615.4" cy="608.68" r="2.4" fill="#f08d93" stroke="#ee848b" stroke-width="0.5"/>
<circle cx="631.7" cy="611.8" r="2.4" fill="#f08d93" stroke="#ee848b" stroke-width="0.5"/>
<circle cx="623.5" cy="615.88" r="2.4" fill="#f08d93" stroke="#ee848b" stroke-width="0.5"/>
<circle cx="615.4" cy="622.84" r="2.4" fill="#f08d93" stroke="#ee848b" stroke-width="0.5"/>
<circle cx="623.5" cy="623.08" r="2.4" fill="#f08d93" stroke="#ee848b" stroke-width="0.5"/>
<circle cx="631.7" cy="626.2" r="2.4" fill="#f08d93" stroke="#ee848b" stroke-width="0.5"/>
<circle cx="623.5" cy="628.36" r="2.4" fill="#f08d93" stroke="#ee848b" stroke-width="0.5"/>
<circle cx="615.4" cy="631" r="2.4" fill="#f08d93" stroke="#ee848b" stroke-width="0.5"/>
<circle cx="631.7" cy="631" r="2.4" fill="#f08d93" stroke="#ee848b" stroke-width="0.5"/>
<circle cx="662.4" cy="523.96" r="2.4" fill="#772a84" stroke="#682076" stroke-width="0.5"/>
<circle cx="662.4" cy="543.64" r="2.4" fill="#772a84" stroke="#682076" stroke-width="0.5"/>
<circle cx="662.4" cy="551.8" r="2.4" fill="#772a84" stroke="#682076" stroke-width="0.5"/>
<circle cx="662.4" cy="565.72" r="2.4" fill="#772a84" stroke="#682076" stroke-width="0.5"/>
<circle cx="662.4" cy="578.68" r="2.4" fill="#772a84" stroke="#682076" stroke-width="0.5"/>
<circle cx="662.4" cy="588.76" r="2.4" fill="#772a84" stroke="#682076" stroke-width="0.5"/>
<circle cx="666.3" cy="594.52" r="2.4" fill="#772a84" stroke="#682076" stroke-width="0.5"/>
<circle cx="658.4" cy="597.88" r="2.4" fill="#772a84" stroke="#682076" stroke-width="0.5"/>
<circle cx="666.3" cy="602.44" r="2.4" fill="#772a84" stroke="#682076" stroke-width="0.5"/>
<circle cx="658.4" cy="603.64" r="2.4" fill="#772a84" stroke="#682076" stroke-width="0.5"/>
<circle cx="666.3" cy="607" r="2.4" fill="#772a84" stroke="#682076" stroke-width="0.5"/>
<circle cx="658.4" cy="609.4" r="2.4" fill="#772a84" stroke="#682076" stroke-width="0.5"/>
<circle cx="666.3" cy="616.6" r="2.4" fill="#772a84" stroke="#682076" stroke-width="0.5"/>
<circle cx="658.4" cy="619.72" r="2.4" fill="#772a84" stroke="#682076" stroke-width="0.5"/>
<circle cx="658.4" cy="627.16" r="2.4" fill="#772a84" stroke="#682076" stroke-width="0.5"/>
<circle cx="666.3" cy="627.16" r="2.4" fill="#772a84" stroke="#682076" stroke-width="0.5"/>
<line x1="563" y1="631" x2="684" y2="631" stroke="#1a1a1a" stroke-width="1.3" />
<line x1="584.6" y1="631" x2="584.6" y2="634" stroke="#1a1a1a" stroke-width="1" />
<text x="584.6" y="642.9" font-size="9.0" font-weight="bold" text-anchor="middle" fill="#000" >WT</text>
<line x1="623.35" y1="631" x2="623.35" y2="634" stroke="#1a1a1a" stroke-width="1" />
<text x="623.35" y="642.9" font-size="9.0" font-weight="bold" text-anchor="middle" fill="#000" >KO-Veh</text>
<line x1="662.35" y1="631" x2="662.35" y2="634" stroke="#1a1a1a" stroke-width="1" />
<text x="662.35" y="642.9" font-size="9.0" font-weight="bold" text-anchor="middle" fill="#000" >KO-350</text>
<text x="0" y="0" font-size="9.1" font-weight="bold" text-anchor="middle" transform="translate(546,568.6) rotate(-90)">Time (sec)</text>
<polyline points="584.3,513.2 584.3,510.5 662.6,510.5 662.6,513.2" fill="none" stroke="#222" stroke-width="1.2"/><text x="620.2" y="509.8" font-size="9.3" font-weight="normal" text-anchor="middle" stroke="#000" stroke-width="0.3">ns</text>
<polyline points="584.3,520.5 584.3,517.3 620.2,517.3 620.2,564.3" fill="none" stroke="#222" stroke-width="1.2"/><use href="#star" transform="translate(598.3,514.2) scale(1.05)" fill="#111"/>
<polyline points="623,564.3 623,517.3 662.6,517.3 662.6,520.5" fill="none" stroke="#222" stroke-width="1.2"/><text x="634.8" y="517" font-size="9.3" font-weight="normal" text-anchor="middle" stroke="#000" stroke-width="0.3">ns</text>
</svg>
</body></html>
